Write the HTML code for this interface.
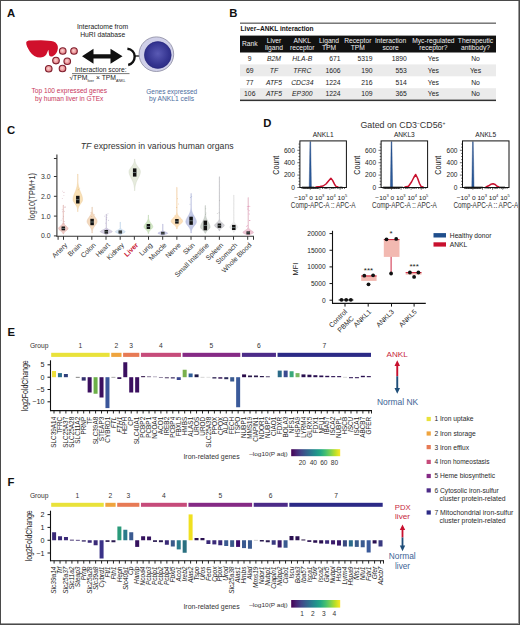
<!DOCTYPE html><html><head><meta charset="utf-8"><title>figure</title><style>html,body{margin:0;padding:0;background:#fff;}body{width:520px;height:625px;overflow:hidden;}svg{display:block;font-family:"Liberation Sans",sans-serif;}text{paint-order:stroke;}</style></head><body>
<svg width="520" height="625" viewBox="0 0 520 625">
<defs><radialGradient id="gpink" cx="0.45" cy="0.45" r="0.6"><stop offset="0" stop-color="#fbd6d4"/><stop offset="0.55" stop-color="#ec9a9c"/><stop offset="1" stop-color="#d86872"/></radialGradient><radialGradient id="gblue" cx="0.5" cy="0.45" r="0.6"><stop offset="0" stop-color="#5a5ab4"/><stop offset="0.7" stop-color="#33338f"/><stop offset="1" stop-color="#2a2a80"/></radialGradient><linearGradient id="viridis" x1="0" x2="1" y1="0" y2="0"><stop offset="0.0" stop-color="#440154"/><stop offset="0.1" stop-color="#482475"/><stop offset="0.2" stop-color="#414487"/><stop offset="0.3" stop-color="#355f8d"/><stop offset="0.4" stop-color="#2a788e"/><stop offset="0.5" stop-color="#21918c"/><stop offset="0.6" stop-color="#22a884"/><stop offset="0.7" stop-color="#44bf70"/><stop offset="0.8" stop-color="#7ad151"/><stop offset="0.9" stop-color="#bddf26"/><stop offset="1.0" stop-color="#fde725"/></linearGradient></defs>
<rect x="0" y="0" width="520" height="625" fill="#fff"/>
<text x="7.00" y="16.90" font-size="11.3" fill="#111" font-weight="bold">A</text>
<path d="M26.2,42.6 C26.5,40.8 28.5,40.4 30,40.4 L41,40.3 C46,40.4 51,40.8 53.5,41.6 C56.5,42.8 58.2,45.2 57.9,48.2 C57.6,51.6 55.8,54.6 53.2,55.9 C51.6,56.7 50,56.6 49.3,55.4 C48.8,54.2 48.7,51.5 48.4,49.8 C47.7,51 47.2,53 46.3,54.6 C45,56.6 42.6,57.6 40.2,57.6 C36.2,57.4 32.2,55 29.8,51.4 C27.8,48.4 26,45.2 26.2,42.6 Z" fill="#d0102c"/>
<circle cx="62.75" cy="51" r="3.3" fill="url(#gpink)" stroke="#7e1f2e" stroke-width="1.1"/>
<circle cx="74" cy="51" r="3.3" fill="url(#gpink)" stroke="#7e1f2e" stroke-width="1.1"/>
<circle cx="56" cy="60.6" r="3.3" fill="url(#gpink)" stroke="#7e1f2e" stroke-width="1.1"/>
<circle cx="67.25" cy="61.25" r="3.3" fill="url(#gpink)" stroke="#7e1f2e" stroke-width="1.1"/>
<circle cx="48.75" cy="68.75" r="3.3" fill="url(#gpink)" stroke="#7e1f2e" stroke-width="1.1"/>
<circle cx="62.5" cy="68.5" r="3.3" fill="url(#gpink)" stroke="#7e1f2e" stroke-width="1.1"/>
<text x="102.50" y="28.75" font-size="6.8" fill="#222" text-anchor="middle" textLength="51.20" lengthAdjust="spacingAndGlyphs">Interactome from</text>
<text x="102.75" y="37.30" font-size="6.8" fill="#222" text-anchor="middle" textLength="45.00" lengthAdjust="spacingAndGlyphs">HuRI database</text>
<path d="M82,56.3 L93.5,48.8 L93.5,54.2 L110.5,54.2 L110.5,48.8 L122.5,56.3 L110.5,63.8 L110.5,58.4 L93.5,58.4 L93.5,63.8 Z" fill="#111"/>
<text x="100.80" y="71.50" font-size="6.8" fill="#222" text-anchor="middle" textLength="51.60" lengthAdjust="spacingAndGlyphs">Interaction score:</text>
<line x1="72.00" y1="73.60" x2="129.50" y2="73.60" stroke="#555" stroke-width="0.8" />
<text x="69.4" y="80.2" font-size="6.8" fill="#222">√TPM<tspan font-size="3.6" dy="1.6">liver</tspan><tspan dy="-1.6"> × TPM</tspan><tspan font-size="3.6" dy="1.6">ANKL</tspan></text>
<text x="69.30" y="93.40" font-size="6.7" fill="#c8375c" text-anchor="middle" textLength="75.60" lengthAdjust="spacingAndGlyphs">Top 100 expressed genes</text>
<text x="69.20" y="101.00" font-size="6.7" fill="#c8375c" text-anchor="middle" textLength="68.40" lengthAdjust="spacingAndGlyphs">by human liver in GTEx</text>
<path d="M127.4,48.8 C131.8,49.2 134.6,52.4 134.7,56.4 C134.6,60.6 132,64.2 128.2,65.0" fill="none" stroke="#111" stroke-width="2.4"/>
<line x1="134.60" y1="56.00" x2="139.50" y2="56.00" stroke="#111" stroke-width="1.3" />
<circle cx="156.4" cy="54.2" r="17.3" fill="#cfcfe8" stroke="#8a8aa0" stroke-width="0.8"/>
<circle cx="157.8" cy="55" r="13.4" fill="url(#gblue)" stroke="#23237a" stroke-width="0.6"/>
<text x="171.70" y="93.50" font-size="6.7" fill="#4d6d9e" text-anchor="middle" textLength="50.80" lengthAdjust="spacingAndGlyphs">Genes expressed</text>
<text x="171.50" y="100.80" font-size="6.7" fill="#4d6d9e" text-anchor="middle" textLength="45.00" lengthAdjust="spacingAndGlyphs">by ANKL1 cells</text>
<text x="229.20" y="17.00" font-size="11.3" fill="#111" font-weight="bold">B</text>
<rect x="240.00" y="22.60" width="256.00" height="1.10" fill="#444" />
<text x="240.60" y="30.70" font-size="6.8" fill="#111" font-weight="bold" textLength="73.00" lengthAdjust="spacingAndGlyphs">Liver–ANKL interaction</text>
<rect x="240.00" y="35.60" width="256.00" height="16.90" fill="#111" />
<rect x="240.00" y="64.40" width="256.00" height="11.90" fill="#ebebeb" />
<rect x="240.00" y="88.20" width="256.00" height="11.90" fill="#ebebeb" />
<rect x="240.00" y="99.60" width="256.00" height="1.50" fill="#333" />
<text x="249.75" y="46.30" font-size="6.7" fill="#f2f2f2" text-anchor="middle">Rank</text>
<text x="274.00" y="42.60" font-size="6.7" fill="#f2f2f2" text-anchor="middle">Liver</text>
<text x="274.00" y="50.00" font-size="6.7" fill="#f2f2f2" text-anchor="middle">ligand</text>
<text x="302.30" y="42.60" font-size="6.7" fill="#f2f2f2" text-anchor="middle">ANKL</text>
<text x="302.30" y="50.00" font-size="6.7" fill="#f2f2f2" text-anchor="middle">receptor</text>
<text x="329.00" y="42.60" font-size="6.7" fill="#f2f2f2" text-anchor="middle">Ligand</text>
<text x="329.00" y="50.00" font-size="6.7" fill="#f2f2f2" text-anchor="middle">TPM</text>
<text x="357.80" y="42.60" font-size="6.7" fill="#f2f2f2" text-anchor="middle">Receptor</text>
<text x="357.80" y="50.00" font-size="6.7" fill="#f2f2f2" text-anchor="middle">TPM</text>
<text x="390.60" y="42.60" font-size="6.7" fill="#f2f2f2" text-anchor="middle">Interaction</text>
<text x="390.60" y="50.00" font-size="6.7" fill="#f2f2f2" text-anchor="middle">score</text>
<text x="433.40" y="42.60" font-size="6.7" fill="#f2f2f2" text-anchor="middle">Myc-regulated</text>
<text x="433.40" y="50.00" font-size="6.7" fill="#f2f2f2" text-anchor="middle">receptor?</text>
<text x="475.50" y="42.60" font-size="6.7" fill="#f2f2f2" text-anchor="middle">Therapeutic</text>
<text x="475.50" y="50.00" font-size="6.7" fill="#f2f2f2" text-anchor="middle">antibody?</text>
<text x="249.75" y="60.70" font-size="6.8" fill="#222" text-anchor="middle">9</text>
<text x="274.00" y="60.70" font-size="6.8" fill="#222" text-anchor="middle" font-style="italic">B2M</text>
<text x="302.30" y="60.70" font-size="6.8" fill="#222" text-anchor="middle" font-style="italic">HLA-B</text>
<text x="340.60" y="60.70" font-size="6.8" fill="#222" text-anchor="end">671</text>
<text x="372.50" y="60.70" font-size="6.8" fill="#222" text-anchor="end">5319</text>
<text x="406.90" y="60.70" font-size="6.8" fill="#222" text-anchor="end">1890</text>
<text x="433.40" y="60.70" font-size="6.8" fill="#222" text-anchor="middle">Yes</text>
<text x="475.50" y="60.70" font-size="6.8" fill="#222" text-anchor="middle">No</text>
<text x="249.75" y="72.60" font-size="6.8" fill="#222" text-anchor="middle">69</text>
<text x="274.00" y="72.60" font-size="6.8" fill="#222" text-anchor="middle" font-style="italic">TF</text>
<text x="302.30" y="72.60" font-size="6.8" fill="#222" text-anchor="middle" font-style="italic">TFRC</text>
<text x="340.60" y="72.60" font-size="6.8" fill="#222" text-anchor="end">1606</text>
<text x="372.50" y="72.60" font-size="6.8" fill="#222" text-anchor="end">190</text>
<text x="406.90" y="72.60" font-size="6.8" fill="#222" text-anchor="end">553</text>
<text x="433.40" y="72.60" font-size="6.8" fill="#222" text-anchor="middle">Yes</text>
<text x="475.50" y="72.60" font-size="6.8" fill="#222" text-anchor="middle">Yes</text>
<text x="249.75" y="84.50" font-size="6.8" fill="#222" text-anchor="middle">77</text>
<text x="274.00" y="84.50" font-size="6.8" fill="#222" text-anchor="middle" font-style="italic">ATF5</text>
<text x="302.30" y="84.50" font-size="6.8" fill="#222" text-anchor="middle" font-style="italic">CDC34</text>
<text x="340.60" y="84.50" font-size="6.8" fill="#222" text-anchor="end">1224</text>
<text x="372.50" y="84.50" font-size="6.8" fill="#222" text-anchor="end">216</text>
<text x="406.90" y="84.50" font-size="6.8" fill="#222" text-anchor="end">514</text>
<text x="433.40" y="84.50" font-size="6.8" fill="#222" text-anchor="middle">Yes</text>
<text x="475.50" y="84.50" font-size="6.8" fill="#222" text-anchor="middle">No</text>
<text x="249.75" y="96.40" font-size="6.8" fill="#222" text-anchor="middle">106</text>
<text x="274.00" y="96.40" font-size="6.8" fill="#222" text-anchor="middle" font-style="italic">ATF5</text>
<text x="302.30" y="96.40" font-size="6.8" fill="#222" text-anchor="middle" font-style="italic">EP300</text>
<text x="340.60" y="96.40" font-size="6.8" fill="#222" text-anchor="end">1224</text>
<text x="372.50" y="96.40" font-size="6.8" fill="#222" text-anchor="end">109</text>
<text x="406.90" y="96.40" font-size="6.8" fill="#222" text-anchor="end">365</text>
<text x="433.40" y="96.40" font-size="6.8" fill="#222" text-anchor="middle">Yes</text>
<text x="475.50" y="96.40" font-size="6.8" fill="#222" text-anchor="middle">No</text>
<text x="7.00" y="134.40" font-size="11.3" fill="#111" font-weight="bold">C</text>
<text x="80.8" y="148.5" font-size="8.7" fill="#333" textLength="152.8" lengthAdjust="spacingAndGlyphs"><tspan font-style="italic">TF</tspan> expression in various human organs</text>
<line x1="56.90" y1="154.40" x2="56.90" y2="236.60" stroke="#333" stroke-width="1.1" />
<line x1="56.40" y1="236.25" x2="253.90" y2="236.25" stroke="#333" stroke-width="1.1" />
<line x1="53.90" y1="176.50" x2="56.90" y2="176.50" stroke="#333" stroke-width="1" />
<text x="50.60" y="178.90" font-size="6.9" fill="#333" text-anchor="end">3.0</text>
<line x1="53.90" y1="196.30" x2="56.90" y2="196.30" stroke="#333" stroke-width="1" />
<text x="50.60" y="198.70" font-size="6.9" fill="#333" text-anchor="end">2.0</text>
<line x1="53.90" y1="216.10" x2="56.90" y2="216.10" stroke="#333" stroke-width="1" />
<text x="50.60" y="218.50" font-size="6.9" fill="#333" text-anchor="end">1.0</text>
<line x1="53.90" y1="235.90" x2="56.90" y2="235.90" stroke="#333" stroke-width="1" />
<text x="50.60" y="238.30" font-size="6.9" fill="#333" text-anchor="end">0.0</text>
<line x1="53.90" y1="158.50" x2="56.90" y2="158.50" stroke="#333" stroke-width="1" />
<text transform="translate(35.0,196.5) rotate(-90)" font-size="8.2" fill="#333" text-anchor="middle" textLength="47" lengthAdjust="spacingAndGlyphs">log10(TPM+1)</text>
<line x1="63.50" y1="236.25" x2="63.50" y2="239.80" stroke="#333" stroke-width="1" />
<line x1="77.67" y1="236.25" x2="77.67" y2="239.80" stroke="#333" stroke-width="1" />
<line x1="91.84" y1="236.25" x2="91.84" y2="239.80" stroke="#333" stroke-width="1" />
<line x1="106.01" y1="236.25" x2="106.01" y2="239.80" stroke="#333" stroke-width="1" />
<line x1="120.18" y1="236.25" x2="120.18" y2="239.80" stroke="#333" stroke-width="1" />
<line x1="134.35" y1="236.25" x2="134.35" y2="239.80" stroke="#333" stroke-width="1" />
<line x1="148.52" y1="236.25" x2="148.52" y2="239.80" stroke="#333" stroke-width="1" />
<line x1="162.69" y1="236.25" x2="162.69" y2="239.80" stroke="#333" stroke-width="1" />
<line x1="176.86" y1="236.25" x2="176.86" y2="239.80" stroke="#333" stroke-width="1" />
<line x1="191.03" y1="236.25" x2="191.03" y2="239.80" stroke="#333" stroke-width="1" />
<line x1="205.20" y1="236.25" x2="205.20" y2="239.80" stroke="#333" stroke-width="1" />
<line x1="219.37" y1="236.25" x2="219.37" y2="239.80" stroke="#333" stroke-width="1" />
<line x1="233.54" y1="236.25" x2="233.54" y2="239.80" stroke="#333" stroke-width="1" />
<line x1="247.71" y1="236.25" x2="247.71" y2="239.80" stroke="#333" stroke-width="1" />
<line x1="58.10" y1="236.25" x2="58.10" y2="239.80" stroke="#333" stroke-width="1" />
<line x1="253.50" y1="236.25" x2="253.50" y2="239.80" stroke="#333" stroke-width="1" />
<text transform="translate(67.80,245.5) rotate(-45)" font-size="6.9" fill="#333" text-anchor="end">Artery</text>
<text transform="translate(81.97,245.5) rotate(-45)" font-size="6.9" fill="#333" text-anchor="end">Brain</text>
<text transform="translate(96.14,245.5) rotate(-45)" font-size="6.9" fill="#333" text-anchor="end">Colon</text>
<text transform="translate(110.31,245.5) rotate(-45)" font-size="6.9" fill="#333" text-anchor="end">Heart</text>
<text transform="translate(124.48,245.5) rotate(-45)" font-size="6.9" fill="#333" text-anchor="end">Kidney</text>
<text transform="translate(138.65,245.5) rotate(-45)" font-size="6.9" fill="#c8102e" text-anchor="end" font-weight="bold">Liver</text>
<text transform="translate(152.82,245.5) rotate(-45)" font-size="6.9" fill="#333" text-anchor="end">Lung</text>
<text transform="translate(166.99,245.5) rotate(-45)" font-size="6.9" fill="#333" text-anchor="end">Muscle</text>
<text transform="translate(181.16,245.5) rotate(-45)" font-size="6.9" fill="#333" text-anchor="end">Nerve</text>
<text transform="translate(195.33,245.5) rotate(-45)" font-size="6.9" fill="#333" text-anchor="end">Skin</text>
<text transform="translate(209.50,245.5) rotate(-45)" font-size="6.9" fill="#333" text-anchor="end">Small Intestine</text>
<text transform="translate(223.67,245.5) rotate(-45)" font-size="6.9" fill="#333" text-anchor="end">Spleen</text>
<text transform="translate(237.84,245.5) rotate(-45)" font-size="6.9" fill="#333" text-anchor="end">Stomach</text>
<text transform="translate(252.01,245.5) rotate(-45)" font-size="6.9" fill="#333" text-anchor="end">Whole Blood</text>
<path d="M63.42,205.00 L63.42,205.72 L63.42,206.45 L63.42,207.18 L63.42,207.90 L63.42,208.62 L63.42,209.35 L63.42,210.07 L63.42,210.80 L63.42,211.53 L63.42,212.25 L63.42,212.97 L63.42,213.70 L63.42,214.43 L63.42,215.15 L63.42,215.88 L63.42,216.60 L63.42,217.32 L63.42,218.05 L63.42,218.78 L63.42,219.50 L63.42,220.22 L63.42,220.95 L63.42,221.68 L63.49,222.40 L63.69,223.12 L64.03,223.85 L64.56,224.57 L65.27,225.30 L66.12,226.03 L66.98,226.75 L67.68,227.47 L68.06,228.20 L68.01,228.93 L67.49,229.65 L66.64,230.38 L65.69,231.10 L64.83,231.82 L64.18,232.55 L63.76,233.28 L63.60,234.00 L63.00,234.00 L62.84,233.28 L62.42,232.55 L61.77,231.82 L60.91,231.10 L59.96,230.38 L59.11,229.65 L58.59,228.93 L58.54,228.20 L58.92,227.47 L59.62,226.75 L60.48,226.03 L61.33,225.30 L62.04,224.57 L62.57,223.85 L62.91,223.12 L63.11,222.40 L63.18,221.68 L63.18,220.95 L63.18,220.22 L63.18,219.50 L63.18,218.78 L63.18,218.05 L63.18,217.32 L63.18,216.60 L63.18,215.88 L63.18,215.15 L63.18,214.43 L63.18,213.70 L63.18,212.97 L63.18,212.25 L63.18,211.53 L63.18,210.80 L63.18,210.07 L63.18,209.35 L63.18,208.62 L63.18,207.90 L63.18,207.18 L63.18,206.45 L63.18,205.72 L63.18,205.00 Z" fill="#efc8c2" stroke="#dba8a2" stroke-width="0.4" stroke-linejoin="round"/>
<path d="M77.92,174.00 L77.92,174.94 L77.92,175.88 L77.92,176.81 L77.92,177.75 L77.92,178.69 L77.92,179.62 L77.92,180.56 L77.97,181.50 L78.04,182.44 L78.13,183.38 L78.24,184.31 L78.39,185.25 L78.57,186.19 L78.78,187.12 L79.03,188.06 L79.33,189.00 L79.65,189.94 L80.01,190.88 L80.39,191.81 L80.77,192.75 L81.16,193.69 L81.53,194.62 L81.86,195.56 L82.15,196.50 L82.38,197.44 L82.53,198.38 L82.60,199.31 L82.54,200.25 L82.24,201.19 L81.73,202.12 L81.10,203.06 L80.42,204.00 L79.77,204.94 L79.20,205.88 L78.74,206.81 L78.40,207.75 L78.16,208.69 L78.01,209.62 L77.92,210.56 L78.10,211.50 L77.50,211.50 L77.68,210.56 L77.59,209.62 L77.44,208.69 L77.20,207.75 L76.86,206.81 L76.40,205.88 L75.83,204.94 L75.18,204.00 L74.50,203.06 L73.87,202.12 L73.36,201.19 L73.06,200.25 L73.00,199.31 L73.07,198.38 L73.22,197.44 L73.45,196.50 L73.74,195.56 L74.07,194.62 L74.44,193.69 L74.83,192.75 L75.21,191.81 L75.59,190.88 L75.95,189.94 L76.27,189.00 L76.57,188.06 L76.82,187.12 L77.03,186.19 L77.21,185.25 L77.36,184.31 L77.47,183.38 L77.56,182.44 L77.63,181.50 L77.68,180.56 L77.68,179.62 L77.68,178.69 L77.68,177.75 L77.68,176.81 L77.68,175.88 L77.68,174.94 L77.68,174.00 Z" fill="#f8e0b6" stroke="#ecc898" stroke-width="0.4" stroke-linejoin="round"/>
<path d="M92.22,207.00 L92.22,207.65 L92.22,208.30 L92.22,208.95 L92.22,209.60 L92.25,210.25 L92.32,210.90 L92.42,211.55 L92.55,212.20 L92.73,212.85 L92.95,213.50 L93.23,214.15 L93.55,214.80 L93.93,215.45 L94.36,216.10 L94.81,216.75 L95.28,217.40 L95.74,218.05 L96.17,218.70 L96.54,219.35 L96.83,220.00 L97.02,220.65 L97.10,221.30 L97.05,221.95 L96.88,222.60 L96.59,223.25 L96.21,223.90 L95.77,224.55 L95.28,225.20 L94.79,225.85 L94.32,226.50 L93.88,227.15 L93.49,227.80 L93.16,228.45 L92.88,229.10 L92.67,229.75 L92.50,230.40 L92.37,231.05 L92.28,231.70 L92.22,232.35 L92.40,233.00 L91.80,233.00 L91.98,232.35 L91.92,231.70 L91.83,231.05 L91.70,230.40 L91.53,229.75 L91.32,229.10 L91.04,228.45 L90.71,227.80 L90.32,227.15 L89.88,226.50 L89.41,225.85 L88.92,225.20 L88.43,224.55 L87.99,223.90 L87.61,223.25 L87.32,222.60 L87.15,221.95 L87.10,221.30 L87.18,220.65 L87.37,220.00 L87.66,219.35 L88.03,218.70 L88.46,218.05 L88.92,217.40 L89.39,216.75 L89.84,216.10 L90.27,215.45 L90.65,214.80 L90.97,214.15 L91.25,213.50 L91.47,212.85 L91.65,212.20 L91.78,211.55 L91.88,210.90 L91.95,210.25 L91.98,209.60 L91.98,208.95 L91.98,208.30 L91.98,207.65 L91.98,207.00 Z" fill="#f3d9be" stroke="#dfbc9c" stroke-width="0.4" stroke-linejoin="round"/>
<path d="M106.42,214.00 L106.42,214.53 L106.42,215.06 L106.42,215.59 L106.42,216.12 L106.42,216.65 L106.42,217.18 L106.42,217.71 L106.42,218.24 L106.42,218.77 L106.42,219.30 L106.42,219.83 L106.42,220.36 L106.42,220.89 L106.42,221.42 L106.42,221.95 L106.42,222.48 L106.42,223.01 L106.42,223.54 L106.42,224.07 L106.42,224.60 L106.42,225.13 L106.42,225.66 L106.42,226.19 L106.42,226.72 L106.45,227.25 L106.65,227.78 L107.02,228.31 L107.66,228.84 L108.57,229.37 L109.71,229.90 L110.89,230.43 L111.84,230.96 L112.29,231.49 L112.04,232.02 L111.07,232.55 L109.73,233.08 L108.44,233.61 L107.46,234.14 L106.84,234.67 L106.60,235.20 L106.00,235.20 L105.76,234.67 L105.14,234.14 L104.16,233.61 L102.87,233.08 L101.53,232.55 L100.56,232.02 L100.31,231.49 L100.76,230.96 L101.71,230.43 L102.89,229.90 L104.03,229.37 L104.94,228.84 L105.58,228.31 L105.95,227.78 L106.15,227.25 L106.18,226.72 L106.18,226.19 L106.18,225.66 L106.18,225.13 L106.18,224.60 L106.18,224.07 L106.18,223.54 L106.18,223.01 L106.18,222.48 L106.18,221.95 L106.18,221.42 L106.18,220.89 L106.18,220.36 L106.18,219.83 L106.18,219.30 L106.18,218.77 L106.18,218.24 L106.18,217.71 L106.18,217.18 L106.18,216.65 L106.18,216.12 L106.18,215.59 L106.18,215.06 L106.18,214.53 L106.18,214.00 Z" fill="#d6d0e2" stroke="#b4acc8" stroke-width="0.4" stroke-linejoin="round"/>
<path d="M120.42,222.00 L120.42,222.33 L120.42,222.66 L120.42,222.99 L120.42,223.32 L120.42,223.65 L120.42,223.98 L120.42,224.31 L120.42,224.64 L120.42,224.97 L120.42,225.30 L120.42,225.63 L120.42,225.96 L120.42,226.29 L120.42,226.62 L120.42,226.95 L120.42,227.28 L120.42,227.61 L120.48,227.94 L120.61,228.27 L120.81,228.60 L121.10,228.93 L121.49,229.26 L121.99,229.59 L122.58,229.92 L123.23,230.25 L123.89,230.58 L124.49,230.91 L124.96,231.24 L125.24,231.57 L125.29,231.90 L125.03,232.23 L124.51,232.56 L123.82,232.89 L123.05,233.22 L122.32,233.55 L121.69,233.88 L121.20,234.21 L120.84,234.54 L120.61,234.87 L120.60,235.20 L120.00,235.20 L119.99,234.87 L119.76,234.54 L119.40,234.21 L118.91,233.88 L118.28,233.55 L117.55,233.22 L116.78,232.89 L116.09,232.56 L115.57,232.23 L115.31,231.90 L115.36,231.57 L115.64,231.24 L116.11,230.91 L116.71,230.58 L117.37,230.25 L118.02,229.92 L118.61,229.59 L119.11,229.26 L119.50,228.93 L119.79,228.60 L119.99,228.27 L120.12,227.94 L120.18,227.61 L120.18,227.28 L120.18,226.95 L120.18,226.62 L120.18,226.29 L120.18,225.96 L120.18,225.63 L120.18,225.30 L120.18,224.97 L120.18,224.64 L120.18,224.31 L120.18,223.98 L120.18,223.65 L120.18,223.32 L120.18,222.99 L120.18,222.66 L120.18,222.33 L120.18,222.00 Z" fill="#d8e6f4" stroke="#b4cce2" stroke-width="0.4" stroke-linejoin="round"/>
<path d="M134.82,159.00 L134.86,159.79 L134.95,160.57 L135.08,161.36 L135.27,162.15 L135.52,162.94 L135.85,163.72 L136.26,164.51 L136.75,165.30 L137.30,166.09 L137.90,166.88 L138.52,167.66 L139.11,168.45 L139.63,169.24 L140.05,170.03 L140.31,170.81 L140.40,171.60 L140.36,172.39 L140.24,173.18 L140.05,173.96 L139.79,174.75 L139.47,175.54 L139.11,176.32 L138.72,177.11 L138.31,177.90 L137.90,178.69 L137.50,179.47 L137.11,180.26 L136.75,181.05 L136.41,181.84 L136.11,182.62 L135.85,183.41 L135.62,184.20 L135.43,184.99 L135.27,185.78 L135.14,186.56 L135.03,187.35 L134.95,188.14 L134.88,188.93 L134.83,189.71 L135.00,190.50 L134.40,190.50 L134.57,189.71 L134.52,188.93 L134.45,188.14 L134.37,187.35 L134.26,186.56 L134.13,185.78 L133.97,184.99 L133.78,184.20 L133.55,183.41 L133.29,182.62 L132.99,181.84 L132.65,181.05 L132.29,180.26 L131.90,179.47 L131.50,178.69 L131.09,177.90 L130.68,177.11 L130.29,176.32 L129.93,175.54 L129.61,174.75 L129.35,173.96 L129.16,173.18 L129.04,172.39 L129.00,171.60 L129.09,170.81 L129.35,170.03 L129.77,169.24 L130.29,168.45 L130.88,167.66 L131.50,166.88 L132.10,166.09 L132.65,165.30 L133.14,164.51 L133.55,163.72 L133.88,162.94 L134.13,162.15 L134.32,161.36 L134.45,160.57 L134.54,159.79 L134.58,159.00 Z" fill="#e6ebdd" stroke="#ccd3c0" stroke-width="0.4" stroke-linejoin="round"/>
<path d="M148.52,215.00 L148.52,215.46 L148.52,215.93 L148.52,216.39 L148.52,216.85 L148.52,217.31 L148.53,217.78 L148.58,218.24 L148.66,218.70 L148.75,219.16 L148.87,219.62 L149.03,220.09 L149.21,220.55 L149.43,221.01 L149.69,221.47 L149.98,221.94 L150.30,222.40 L150.65,222.86 L151.01,223.32 L151.37,223.79 L151.72,224.25 L152.04,224.71 L152.33,225.18 L152.55,225.64 L152.71,226.10 L152.79,226.56 L152.78,227.03 L152.64,227.49 L152.36,227.95 L151.97,228.41 L151.52,228.88 L151.03,229.34 L150.54,229.80 L150.09,230.26 L149.68,230.72 L149.34,231.19 L149.07,231.65 L148.86,232.11 L148.71,232.57 L148.60,233.04 L148.70,233.50 L148.10,233.50 L148.20,233.04 L148.09,232.57 L147.94,232.11 L147.73,231.65 L147.46,231.19 L147.12,230.72 L146.71,230.26 L146.26,229.80 L145.77,229.34 L145.28,228.88 L144.83,228.41 L144.44,227.95 L144.16,227.49 L144.02,227.03 L144.01,226.56 L144.09,226.10 L144.25,225.64 L144.47,225.18 L144.76,224.71 L145.08,224.25 L145.43,223.79 L145.79,223.32 L146.15,222.86 L146.50,222.40 L146.82,221.94 L147.11,221.47 L147.37,221.01 L147.59,220.55 L147.77,220.09 L147.93,219.62 L148.05,219.16 L148.14,218.70 L148.22,218.24 L148.27,217.78 L148.28,217.31 L148.28,216.85 L148.28,216.39 L148.28,215.93 L148.28,215.46 L148.28,215.00 Z" fill="#d3e8c6" stroke="#b2d0a2" stroke-width="0.4" stroke-linejoin="round"/>
<path d="M162.92,224.00 L162.92,224.29 L162.92,224.57 L162.92,224.86 L162.92,225.15 L162.92,225.44 L162.92,225.72 L162.92,226.01 L162.92,226.30 L162.92,226.59 L162.92,226.88 L162.92,227.16 L162.92,227.45 L162.92,227.74 L162.92,228.03 L162.92,228.31 L162.92,228.60 L162.92,228.89 L162.92,229.18 L162.92,229.46 L162.92,229.75 L162.92,230.04 L162.96,230.32 L163.11,230.61 L163.35,230.90 L163.72,231.19 L164.23,231.47 L164.89,231.76 L165.64,232.05 L166.40,232.34 L167.07,232.62 L167.54,232.91 L167.70,233.20 L167.50,233.49 L166.95,233.78 L166.18,234.06 L165.33,234.35 L164.54,234.64 L163.91,234.93 L163.45,235.21 L163.10,235.50 L162.50,235.50 L162.15,235.21 L161.69,234.93 L161.06,234.64 L160.27,234.35 L159.42,234.06 L158.65,233.78 L158.10,233.49 L157.90,233.20 L158.06,232.91 L158.53,232.62 L159.20,232.34 L159.96,232.05 L160.71,231.76 L161.37,231.47 L161.88,231.19 L162.25,230.90 L162.49,230.61 L162.64,230.32 L162.68,230.04 L162.68,229.75 L162.68,229.46 L162.68,229.18 L162.68,228.89 L162.68,228.60 L162.68,228.31 L162.68,228.03 L162.68,227.74 L162.68,227.45 L162.68,227.16 L162.68,226.88 L162.68,226.59 L162.68,226.30 L162.68,226.01 L162.68,225.72 L162.68,225.44 L162.68,225.15 L162.68,224.86 L162.68,224.57 L162.68,224.29 L162.68,224.00 Z" fill="#cdcde8" stroke="#aaaad2" stroke-width="0.4" stroke-linejoin="round"/>
<path d="M177.02,187.30 L177.02,188.34 L177.02,189.39 L177.02,190.43 L177.02,191.47 L177.02,192.51 L177.02,193.56 L177.02,194.60 L177.02,195.64 L177.02,196.68 L177.02,197.73 L177.02,198.77 L177.02,199.81 L177.02,200.85 L177.02,201.90 L177.02,202.94 L177.02,203.98 L177.02,205.02 L177.02,206.06 L177.02,207.11 L177.02,208.15 L177.02,209.19 L177.02,210.24 L177.02,211.28 L177.08,212.32 L177.28,213.36 L177.64,214.41 L178.22,215.45 L179.03,216.49 L180.04,217.53 L181.11,218.57 L182.03,219.62 L182.60,220.66 L182.64,221.70 L181.98,222.75 L180.81,223.79 L179.52,224.83 L178.43,225.87 L177.68,226.91 L177.24,227.96 L177.20,229.00 L176.60,229.00 L176.56,227.96 L176.12,226.91 L175.37,225.87 L174.28,224.83 L172.99,223.79 L171.82,222.75 L171.16,221.70 L171.20,220.66 L171.77,219.62 L172.69,218.57 L173.76,217.53 L174.77,216.49 L175.58,215.45 L176.16,214.41 L176.52,213.36 L176.72,212.32 L176.78,211.28 L176.78,210.24 L176.78,209.19 L176.78,208.15 L176.78,207.11 L176.78,206.06 L176.78,205.02 L176.78,203.98 L176.78,202.94 L176.78,201.90 L176.78,200.85 L176.78,199.81 L176.78,198.77 L176.78,197.73 L176.78,196.68 L176.78,195.64 L176.78,194.60 L176.78,193.56 L176.78,192.51 L176.78,191.47 L176.78,190.43 L176.78,189.39 L176.78,188.34 L176.78,187.30 Z" fill="#fbdfb9" stroke="#efc898" stroke-width="0.4" stroke-linejoin="round"/>
<path d="M191.22,193.40 L191.22,194.39 L191.22,195.38 L191.22,196.37 L191.22,197.36 L191.22,198.35 L191.22,199.34 L191.22,200.33 L191.22,201.32 L191.22,202.31 L191.22,203.30 L191.22,204.29 L191.22,205.28 L191.22,206.27 L191.23,207.26 L191.32,208.25 L191.44,209.24 L191.61,210.23 L191.85,211.22 L192.16,212.21 L192.55,213.20 L193.01,214.19 L193.54,215.18 L194.12,216.17 L194.71,217.16 L195.26,218.15 L195.75,219.14 L196.12,220.13 L196.34,221.12 L196.39,222.11 L196.15,223.10 L195.63,224.09 L194.90,225.08 L194.09,226.07 L193.31,227.06 L192.63,228.05 L192.09,229.04 L191.70,230.03 L191.44,231.02 L191.28,232.01 L191.40,233.00 L190.80,233.00 L190.92,232.01 L190.76,231.02 L190.50,230.03 L190.11,229.04 L189.57,228.05 L188.89,227.06 L188.11,226.07 L187.30,225.08 L186.57,224.09 L186.05,223.10 L185.81,222.11 L185.86,221.12 L186.08,220.13 L186.45,219.14 L186.94,218.15 L187.49,217.16 L188.08,216.17 L188.66,215.18 L189.19,214.19 L189.65,213.20 L190.04,212.21 L190.35,211.22 L190.59,210.23 L190.76,209.24 L190.88,208.25 L190.97,207.26 L190.98,206.27 L190.98,205.28 L190.98,204.29 L190.98,203.30 L190.98,202.31 L190.98,201.32 L190.98,200.33 L190.98,199.34 L190.98,198.35 L190.98,197.36 L190.98,196.37 L190.98,195.38 L190.98,194.39 L190.98,193.40 Z" fill="#c3c9e5" stroke="#a6aed6" stroke-width="0.4" stroke-linejoin="round"/>
<path d="M205.42,205.50 L205.42,206.19 L205.42,206.88 L205.42,207.58 L205.42,208.27 L205.42,208.96 L205.42,209.66 L205.42,210.35 L205.42,211.04 L205.42,211.73 L205.42,212.43 L205.42,213.12 L205.47,213.81 L205.54,214.50 L205.63,215.19 L205.75,215.89 L205.90,216.58 L206.08,217.27 L206.29,217.97 L206.55,218.66 L206.84,219.35 L207.16,220.04 L207.52,220.73 L207.89,221.43 L208.28,222.12 L208.66,222.81 L209.03,223.50 L209.36,224.20 L209.65,224.89 L209.87,225.58 L210.02,226.27 L210.10,226.97 L210.03,227.66 L209.65,228.35 L209.03,229.04 L208.28,229.74 L207.52,230.43 L206.84,231.12 L206.29,231.81 L205.90,232.51 L205.60,233.20 L205.00,233.20 L204.70,232.51 L204.31,231.81 L203.76,231.12 L203.08,230.43 L202.32,229.74 L201.57,229.04 L200.95,228.35 L200.57,227.66 L200.50,226.97 L200.58,226.27 L200.73,225.58 L200.95,224.89 L201.24,224.20 L201.57,223.50 L201.94,222.81 L202.32,222.12 L202.71,221.43 L203.08,220.73 L203.44,220.04 L203.76,219.35 L204.05,218.66 L204.31,217.97 L204.52,217.27 L204.70,216.58 L204.85,215.89 L204.97,215.19 L205.06,214.50 L205.13,213.81 L205.18,213.12 L205.18,212.43 L205.18,211.73 L205.18,211.04 L205.18,210.35 L205.18,209.66 L205.18,208.96 L205.18,208.27 L205.18,207.58 L205.18,206.88 L205.18,206.19 L205.18,205.50 Z" fill="#d0d6d0" stroke="#b0b8b0" stroke-width="0.4" stroke-linejoin="round"/>
<path d="M219.52,176.70 L219.52,178.05 L219.52,179.40 L219.52,180.75 L219.52,182.10 L219.52,183.45 L219.52,184.80 L219.52,186.15 L219.52,187.50 L219.52,188.85 L219.52,190.20 L219.52,191.55 L219.52,192.90 L219.52,194.25 L219.52,195.60 L219.52,196.95 L219.52,198.30 L219.52,199.65 L219.52,201.00 L219.52,202.35 L219.52,203.70 L219.52,205.05 L219.52,206.40 L219.52,207.75 L219.52,209.10 L219.52,210.45 L219.52,211.80 L219.52,213.15 L219.52,214.50 L219.52,215.85 L219.52,217.20 L219.52,218.55 L219.73,219.90 L220.44,221.25 L221.81,222.60 L223.46,223.95 L224.38,225.30 L223.64,226.65 L221.69,228.00 L220.18,229.35 L219.70,230.70 L219.10,230.70 L218.62,229.35 L217.11,228.00 L215.16,226.65 L214.42,225.30 L215.34,223.95 L216.99,222.60 L218.36,221.25 L219.07,219.90 L219.28,218.55 L219.28,217.20 L219.28,215.85 L219.28,214.50 L219.28,213.15 L219.28,211.80 L219.28,210.45 L219.28,209.10 L219.28,207.75 L219.28,206.40 L219.28,205.05 L219.28,203.70 L219.28,202.35 L219.28,201.00 L219.28,199.65 L219.28,198.30 L219.28,196.95 L219.28,195.60 L219.28,194.25 L219.28,192.90 L219.28,191.55 L219.28,190.20 L219.28,188.85 L219.28,187.50 L219.28,186.15 L219.28,184.80 L219.28,183.45 L219.28,182.10 L219.28,180.75 L219.28,179.40 L219.28,178.05 L219.28,176.70 Z" fill="#d2d2d6" stroke="#b0b0b6" stroke-width="0.4" stroke-linejoin="round"/>
<path d="M233.92,195.00 L233.92,195.93 L233.92,196.87 L233.92,197.80 L233.92,198.73 L233.92,199.66 L233.92,200.59 L233.92,201.53 L233.92,202.46 L233.92,203.39 L233.92,204.32 L233.92,205.26 L233.92,206.19 L233.92,207.12 L233.92,208.06 L233.92,208.99 L233.92,209.92 L233.92,210.85 L233.92,211.78 L233.92,212.72 L233.92,213.65 L233.92,214.58 L233.92,215.52 L233.92,216.45 L233.92,217.38 L233.92,218.31 L233.92,219.25 L233.92,220.18 L233.96,221.11 L234.20,222.04 L234.65,222.98 L235.36,223.91 L236.27,224.84 L237.15,225.77 L237.72,226.71 L237.71,227.64 L236.96,228.57 L235.86,229.50 L234.88,230.44 L234.26,231.37 L234.10,232.30 L233.50,232.30 L233.34,231.37 L232.72,230.44 L231.74,229.50 L230.64,228.57 L229.89,227.64 L229.88,226.71 L230.45,225.77 L231.33,224.84 L232.24,223.91 L232.95,222.98 L233.40,222.04 L233.64,221.11 L233.68,220.18 L233.68,219.25 L233.68,218.31 L233.68,217.38 L233.68,216.45 L233.68,215.52 L233.68,214.58 L233.68,213.65 L233.68,212.72 L233.68,211.78 L233.68,210.85 L233.68,209.92 L233.68,208.99 L233.68,208.06 L233.68,207.12 L233.68,206.19 L233.68,205.26 L233.68,204.32 L233.68,203.39 L233.68,202.46 L233.68,201.53 L233.68,200.59 L233.68,199.66 L233.68,198.73 L233.68,197.80 L233.68,196.87 L233.68,195.93 L233.68,195.00 Z" fill="#ececec" stroke="#d6d6d6" stroke-width="0.4" stroke-linejoin="round"/>
<path d="M248.32,197.50 L248.32,198.45 L248.32,199.40 L248.32,200.34 L248.32,201.29 L248.32,202.24 L248.32,203.19 L248.32,204.13 L248.32,205.08 L248.32,206.03 L248.32,206.97 L248.32,207.92 L248.32,208.87 L248.32,209.82 L248.32,210.76 L248.32,211.71 L248.32,212.66 L248.32,213.61 L248.32,214.56 L248.32,215.50 L248.32,216.45 L248.32,217.40 L248.32,218.34 L248.32,219.29 L248.32,220.24 L248.32,221.19 L248.32,222.13 L248.32,223.08 L248.32,224.03 L248.32,224.98 L248.32,225.93 L248.32,226.87 L248.51,227.82 L249.06,228.77 L250.11,229.72 L251.58,230.66 L252.98,231.61 L253.60,232.56 L252.44,233.50 L250.16,234.45 L248.50,235.40 L247.90,235.40 L246.24,234.45 L243.96,233.50 L242.80,232.56 L243.42,231.61 L244.82,230.66 L246.29,229.72 L247.34,228.77 L247.89,227.82 L248.08,226.87 L248.08,225.93 L248.08,224.98 L248.08,224.03 L248.08,223.08 L248.08,222.13 L248.08,221.19 L248.08,220.24 L248.08,219.29 L248.08,218.34 L248.08,217.40 L248.08,216.45 L248.08,215.50 L248.08,214.56 L248.08,213.61 L248.08,212.66 L248.08,211.71 L248.08,210.76 L248.08,209.82 L248.08,208.87 L248.08,207.92 L248.08,206.97 L248.08,206.03 L248.08,205.08 L248.08,204.13 L248.08,203.19 L248.08,202.24 L248.08,201.29 L248.08,200.34 L248.08,199.40 L248.08,198.45 L248.08,197.50 Z" fill="#eec6d4" stroke="#dca4b8" stroke-width="0.4" stroke-linejoin="round"/>
<circle cx="62.15" cy="209.59" r="0.45" fill="#c890a0" opacity="0.7"/>
<circle cx="62.73" cy="211.74" r="0.45" fill="#c890a0" opacity="0.7"/>
<circle cx="63.85" cy="192.36" r="0.45" fill="#c890a0" opacity="0.7"/>
<circle cx="61.16" cy="220.15" r="0.45" fill="#c890a0" opacity="0.7"/>
<circle cx="62.24" cy="198.44" r="0.45" fill="#c890a0" opacity="0.7"/>
<circle cx="65.48" cy="206.93" r="0.45" fill="#c890a0" opacity="0.7"/>
<circle cx="64.78" cy="207.15" r="0.45" fill="#c890a0" opacity="0.7"/>
<circle cx="63.91" cy="195.42" r="0.45" fill="#c890a0" opacity="0.7"/>
<circle cx="63.89" cy="221.25" r="0.45" fill="#c890a0" opacity="0.7"/>
<circle cx="63.40" cy="216.69" r="0.45" fill="#c890a0" opacity="0.7"/>
<circle cx="64.05" cy="192.31" r="0.45" fill="#c890a0" opacity="0.7"/>
<circle cx="64.44" cy="211.28" r="0.45" fill="#c890a0" opacity="0.7"/>
<circle cx="62.43" cy="191.12" r="0.45" fill="#c890a0" opacity="0.7"/>
<circle cx="64.91" cy="207.02" r="0.45" fill="#c890a0" opacity="0.7"/>
<circle cx="64.26" cy="221.64" r="0.45" fill="#c890a0" opacity="0.7"/>
<circle cx="64.24" cy="223.16" r="0.45" fill="#c890a0" opacity="0.7"/>
<circle cx="62.84" cy="218.83" r="0.45" fill="#c890a0" opacity="0.7"/>
<circle cx="63.06" cy="223.68" r="0.45" fill="#c890a0" opacity="0.7"/>
<circle cx="107.97" cy="213.85" r="0.45" fill="#9080b0" opacity="0.7"/>
<circle cx="104.70" cy="216.12" r="0.45" fill="#9080b0" opacity="0.7"/>
<circle cx="108.35" cy="220.29" r="0.45" fill="#9080b0" opacity="0.7"/>
<circle cx="106.86" cy="217.72" r="0.45" fill="#9080b0" opacity="0.7"/>
<circle cx="106.33" cy="219.33" r="0.45" fill="#9080b0" opacity="0.7"/>
<circle cx="105.64" cy="223.12" r="0.45" fill="#9080b0" opacity="0.7"/>
<circle cx="106.67" cy="229.18" r="0.45" fill="#9080b0" opacity="0.7"/>
<circle cx="107.10" cy="229.65" r="0.45" fill="#9080b0" opacity="0.7"/>
<circle cx="107.87" cy="230.83" r="0.45" fill="#9080b0" opacity="0.7"/>
<circle cx="107.05" cy="215.10" r="0.45" fill="#9080b0" opacity="0.7"/>
<circle cx="249.79" cy="231.05" r="0.45" fill="#d04080" opacity="0.7"/>
<circle cx="249.98" cy="220.37" r="0.45" fill="#d04080" opacity="0.7"/>
<circle cx="249.14" cy="210.70" r="0.45" fill="#d04080" opacity="0.7"/>
<circle cx="249.66" cy="220.49" r="0.45" fill="#d04080" opacity="0.7"/>
<circle cx="247.25" cy="206.71" r="0.45" fill="#d04080" opacity="0.7"/>
<circle cx="249.76" cy="231.72" r="0.45" fill="#d04080" opacity="0.7"/>
<circle cx="246.39" cy="226.62" r="0.45" fill="#d04080" opacity="0.7"/>
<circle cx="247.81" cy="209.07" r="0.45" fill="#d04080" opacity="0.7"/>
<circle cx="247.29" cy="225.76" r="0.45" fill="#d04080" opacity="0.7"/>
<circle cx="249.84" cy="206.19" r="0.45" fill="#d04080" opacity="0.7"/>
<circle cx="248.70" cy="206.21" r="0.45" fill="#d04080" opacity="0.7"/>
<circle cx="249.16" cy="213.94" r="0.45" fill="#d04080" opacity="0.7"/>
<circle cx="192.98" cy="215.61" r="0.45" fill="#8090c8" opacity="0.7"/>
<circle cx="191.32" cy="215.97" r="0.45" fill="#8090c8" opacity="0.7"/>
<circle cx="190.46" cy="197.54" r="0.45" fill="#8090c8" opacity="0.7"/>
<circle cx="191.74" cy="196.63" r="0.45" fill="#8090c8" opacity="0.7"/>
<circle cx="189.97" cy="204.16" r="0.45" fill="#8090c8" opacity="0.7"/>
<circle cx="177.39" cy="198.75" r="0.45" fill="#e8a050" opacity="0.7"/>
<circle cx="174.89" cy="215.83" r="0.45" fill="#e8a050" opacity="0.7"/>
<circle cx="176.08" cy="218.01" r="0.45" fill="#e8a050" opacity="0.7"/>
<circle cx="178.65" cy="204.07" r="0.45" fill="#e8a050" opacity="0.7"/>
<circle cx="176.73" cy="207.48" r="0.45" fill="#e8a050" opacity="0.7"/>
<circle cx="78.43" cy="189.53" r="0.45" fill="#e8b060" opacity="0.7"/>
<circle cx="78.06" cy="189.92" r="0.45" fill="#e8b060" opacity="0.7"/>
<circle cx="79.74" cy="188.11" r="0.45" fill="#e8b060" opacity="0.7"/>
<circle cx="91.80" cy="216.48" r="0.45" fill="#d09060" opacity="0.7"/>
<circle cx="90.95" cy="212.71" r="0.45" fill="#d09060" opacity="0.7"/>
<circle cx="94.20" cy="214.69" r="0.45" fill="#d09060" opacity="0.7"/>
<circle cx="219.61" cy="200.25" r="0.45" fill="#a0a0a0" opacity="0.7"/>
<circle cx="219.03" cy="212.76" r="0.45" fill="#a0a0a0" opacity="0.7"/>
<circle cx="217.29" cy="213.55" r="0.45" fill="#a0a0a0" opacity="0.7"/>
<circle cx="205.78" cy="208.84" r="0.45" fill="#909890" opacity="0.7"/>
<circle cx="205.76" cy="214.53" r="0.45" fill="#909890" opacity="0.7"/>
<circle cx="205.99" cy="212.94" r="0.45" fill="#909890" opacity="0.7"/>
<rect x="61.55" y="226.50" width="3.50" height="3.80" fill="#111" />
<line x1="61.55" y1="228.40" x2="65.05" y2="228.40" stroke="#9aa" stroke-width="0.6" />
<rect x="76.05" y="195.80" width="3.50" height="7.70" fill="#111" />
<line x1="76.05" y1="199.65" x2="79.55" y2="199.65" stroke="#9aa" stroke-width="0.6" />
<rect x="90.35" y="218.80" width="3.50" height="6.40" fill="#111" />
<line x1="90.35" y1="222.00" x2="93.85" y2="222.00" stroke="#9aa" stroke-width="0.6" />
<rect x="104.55" y="230.00" width="3.50" height="3.60" fill="#111" />
<line x1="104.55" y1="231.80" x2="108.05" y2="231.80" stroke="#9aa" stroke-width="0.6" />
<rect x="118.55" y="230.50" width="3.50" height="3.00" fill="#111" />
<line x1="118.55" y1="232.00" x2="122.05" y2="232.00" stroke="#9aa" stroke-width="0.6" />
<rect x="132.95" y="168.40" width="3.50" height="8.20" fill="#111" />
<line x1="132.95" y1="172.50" x2="136.45" y2="172.50" stroke="#9aa" stroke-width="0.6" />
<rect x="146.65" y="224.00" width="3.50" height="5.00" fill="#111" />
<line x1="146.65" y1="226.50" x2="150.15" y2="226.50" stroke="#9aa" stroke-width="0.6" />
<rect x="161.05" y="231.80" width="3.50" height="2.60" fill="#111" />
<line x1="161.05" y1="233.10" x2="164.55" y2="233.10" stroke="#9aa" stroke-width="0.6" />
<rect x="175.15" y="219.00" width="3.50" height="4.60" fill="#111" />
<line x1="175.15" y1="221.30" x2="178.65" y2="221.30" stroke="#9aa" stroke-width="0.6" />
<rect x="189.35" y="216.70" width="3.50" height="8.10" fill="#111" />
<line x1="189.35" y1="220.75" x2="192.85" y2="220.75" stroke="#9aa" stroke-width="0.6" />
<rect x="203.55" y="220.60" width="3.50" height="9.70" fill="#111" />
<line x1="203.55" y1="225.45" x2="207.05" y2="225.45" stroke="#9aa" stroke-width="0.6" />
<rect x="217.65" y="223.50" width="3.50" height="4.30" fill="#111" />
<line x1="217.65" y1="225.65" x2="221.15" y2="225.65" stroke="#9aa" stroke-width="0.6" />
<rect x="232.05" y="224.90" width="3.50" height="5.10" fill="#111" />
<line x1="232.05" y1="227.45" x2="235.55" y2="227.45" stroke="#9aa" stroke-width="0.6" />
<rect x="246.45" y="231.40" width="3.50" height="3.00" fill="#111" />
<line x1="246.45" y1="232.90" x2="249.95" y2="232.90" stroke="#9aa" stroke-width="0.6" />
<text x="263.30" y="127.30" font-size="11.3" fill="#111" font-weight="bold">D</text>
<text x="360.4" y="128.3" font-size="8.9" fill="#333" textLength="85" lengthAdjust="spacingAndGlyphs">Gated on CD3<tspan font-size="5" dy="-3.5">−</tspan><tspan dy="3.5">CD56</tspan><tspan font-size="5" dy="-3.5">+</tspan></text>
<text x="323.15" y="136.80" font-size="6.6" fill="#222" text-anchor="middle">ANKL1</text>
<path d="M309.20,187.5 L309.95,141.70000000000002 L310.65,141.70000000000002 L311.40,187.5 Z" fill="#2a5a9a" stroke="#1c3f78" stroke-width="0.4"/>
<path d="M316.00,187.00 L320.00,186.60 L323.00,186.00 L326.00,184.00 L328.50,181.00 L330.90,178.30 L332.60,180.40 L334.50,184.20 L336.20,186.60 L338.00,187.00" fill="none" stroke="#c8102e" stroke-width="1.5" stroke-linejoin="round" stroke-linecap="round"/>
<path d="M301.90,187.1 L314.40,187.1 M339.50,187.1 L342.40,187.1" stroke="#111" stroke-width="0.8"/>
<rect x="299.90" y="140.90" width="46.50" height="46.60" fill="none" stroke="#111" stroke-width="1"/>
<line x1="297.30" y1="187.50" x2="299.90" y2="187.50" stroke="#111" stroke-width="0.6" />
<line x1="298.50" y1="184.40" x2="299.90" y2="184.40" stroke="#111" stroke-width="0.6" />
<line x1="298.50" y1="181.30" x2="299.90" y2="181.30" stroke="#111" stroke-width="0.6" />
<line x1="298.50" y1="178.20" x2="299.90" y2="178.20" stroke="#111" stroke-width="0.6" />
<line x1="297.30" y1="175.10" x2="299.90" y2="175.10" stroke="#111" stroke-width="0.6" />
<line x1="298.50" y1="172.00" x2="299.90" y2="172.00" stroke="#111" stroke-width="0.6" />
<line x1="298.50" y1="168.90" x2="299.90" y2="168.90" stroke="#111" stroke-width="0.6" />
<line x1="298.50" y1="165.80" x2="299.90" y2="165.80" stroke="#111" stroke-width="0.6" />
<line x1="297.30" y1="162.70" x2="299.90" y2="162.70" stroke="#111" stroke-width="0.6" />
<line x1="298.50" y1="159.60" x2="299.90" y2="159.60" stroke="#111" stroke-width="0.6" />
<line x1="298.50" y1="156.50" x2="299.90" y2="156.50" stroke="#111" stroke-width="0.6" />
<line x1="298.50" y1="153.40" x2="299.90" y2="153.40" stroke="#111" stroke-width="0.6" />
<line x1="297.30" y1="150.30" x2="299.90" y2="150.30" stroke="#111" stroke-width="0.6" />
<line x1="298.50" y1="147.20" x2="299.90" y2="147.20" stroke="#111" stroke-width="0.6" />
<line x1="298.50" y1="144.10" x2="299.90" y2="144.10" stroke="#111" stroke-width="0.6" />
<text x="294.90" y="189.80" font-size="6.6" fill="#222" text-anchor="end">0</text>
<text x="294.90" y="177.40" font-size="6.6" fill="#222" text-anchor="end">200</text>
<text x="294.90" y="165.00" font-size="6.6" fill="#222" text-anchor="end">400</text>
<text x="294.90" y="152.60" font-size="6.6" fill="#222" text-anchor="end">600</text>
<line x1="301.90" y1="187.50" x2="301.90" y2="189.00" stroke="#111" stroke-width="0.6" />
<line x1="304.10" y1="187.50" x2="304.10" y2="189.00" stroke="#111" stroke-width="0.6" />
<line x1="305.90" y1="187.50" x2="305.90" y2="189.00" stroke="#111" stroke-width="0.6" />
<line x1="307.50" y1="187.50" x2="307.50" y2="189.00" stroke="#111" stroke-width="0.6" />
<line x1="308.90" y1="187.50" x2="308.90" y2="189.00" stroke="#111" stroke-width="0.6" />
<line x1="310.30" y1="187.50" x2="310.30" y2="189.70" stroke="#111" stroke-width="0.6" />
<line x1="311.70" y1="187.50" x2="311.70" y2="189.00" stroke="#111" stroke-width="0.6" />
<line x1="313.30" y1="187.50" x2="313.30" y2="189.00" stroke="#111" stroke-width="0.6" />
<line x1="315.10" y1="187.50" x2="315.10" y2="189.00" stroke="#111" stroke-width="0.6" />
<line x1="317.30" y1="187.50" x2="317.30" y2="189.00" stroke="#111" stroke-width="0.6" />
<line x1="319.90" y1="187.50" x2="319.90" y2="189.70" stroke="#111" stroke-width="0.6" />
<line x1="322.50" y1="187.50" x2="322.50" y2="189.00" stroke="#111" stroke-width="0.6" />
<line x1="324.30" y1="187.50" x2="324.30" y2="189.00" stroke="#111" stroke-width="0.6" />
<line x1="325.50" y1="187.50" x2="325.50" y2="189.00" stroke="#111" stroke-width="0.6" />
<line x1="326.50" y1="187.50" x2="326.50" y2="189.00" stroke="#111" stroke-width="0.6" />
<line x1="327.90" y1="187.50" x2="327.90" y2="189.00" stroke="#111" stroke-width="0.6" />
<line x1="329.90" y1="187.50" x2="329.90" y2="189.70" stroke="#111" stroke-width="0.6" />
<line x1="331.50" y1="187.50" x2="331.50" y2="189.00" stroke="#111" stroke-width="0.6" />
<line x1="332.70" y1="187.50" x2="332.70" y2="189.00" stroke="#111" stroke-width="0.6" />
<line x1="333.70" y1="187.50" x2="333.70" y2="189.00" stroke="#111" stroke-width="0.6" />
<line x1="335.10" y1="187.50" x2="335.10" y2="189.00" stroke="#111" stroke-width="0.6" />
<line x1="337.30" y1="187.50" x2="337.30" y2="189.00" stroke="#111" stroke-width="0.6" />
<line x1="338.90" y1="187.50" x2="338.90" y2="189.00" stroke="#111" stroke-width="0.6" />
<line x1="340.10" y1="187.50" x2="340.10" y2="189.70" stroke="#111" stroke-width="0.6" />
<line x1="341.10" y1="187.50" x2="341.10" y2="189.00" stroke="#111" stroke-width="0.6" />
<line x1="342.50" y1="187.50" x2="342.50" y2="189.00" stroke="#111" stroke-width="0.6" />
<line x1="344.50" y1="187.50" x2="344.50" y2="189.00" stroke="#111" stroke-width="0.6" />
<rect x="302.40" y="187.70" width="16.50" height="1.30" fill="#222" opacity="0.75"/>
<text transform="translate(278.70,165.2) rotate(-90)" font-size="8.2" fill="#222" text-anchor="middle" textLength="19" lengthAdjust="spacingAndGlyphs">Count</text>
<text x="320.65" y="199.5" font-size="6.2" fill="#222" text-anchor="middle" textLength="53" lengthAdjust="spacingAndGlyphs">−10<tspan font-size="3.8" dy="-2.4">3</tspan><tspan dy="2.4"> 0 10</tspan><tspan font-size="3.8" dy="-2.4">3</tspan><tspan dy="2.4"> 10</tspan><tspan font-size="3.8" dy="-2.4">4</tspan><tspan dy="2.4"> 10</tspan><tspan font-size="3.8" dy="-2.4">5</tspan></text>
<text x="290.80" y="208.40" font-size="8.5" fill="#333" textLength="64.80" lengthAdjust="spacingAndGlyphs">Comp-APC-A :: APC-A</text>
<text x="404.35" y="136.80" font-size="6.6" fill="#222" text-anchor="middle">ANKL3</text>
<path d="M390.40,187.5 L391.15,141.70000000000002 L391.85,141.70000000000002 L392.60,187.5 Z" fill="#2a5a9a" stroke="#1c3f78" stroke-width="0.4"/>
<path d="M405.00,187.00 L408.50,186.20 L411.50,182.00 L413.80,177.50 L415.70,174.50 L417.50,178.00 L419.50,183.50 L421.20,186.60 L423.00,187.00" fill="none" stroke="#c8102e" stroke-width="1.5" stroke-linejoin="round" stroke-linecap="round"/>
<path d="M383.10,187.1 L402.80,187.1 M423.90,187.1 L423.60,187.1" stroke="#111" stroke-width="0.8"/>
<rect x="381.10" y="140.90" width="46.50" height="46.60" fill="none" stroke="#111" stroke-width="1"/>
<line x1="378.50" y1="187.50" x2="381.10" y2="187.50" stroke="#111" stroke-width="0.6" />
<line x1="379.70" y1="184.40" x2="381.10" y2="184.40" stroke="#111" stroke-width="0.6" />
<line x1="379.70" y1="181.30" x2="381.10" y2="181.30" stroke="#111" stroke-width="0.6" />
<line x1="379.70" y1="178.20" x2="381.10" y2="178.20" stroke="#111" stroke-width="0.6" />
<line x1="378.50" y1="175.10" x2="381.10" y2="175.10" stroke="#111" stroke-width="0.6" />
<line x1="379.70" y1="172.00" x2="381.10" y2="172.00" stroke="#111" stroke-width="0.6" />
<line x1="379.70" y1="168.90" x2="381.10" y2="168.90" stroke="#111" stroke-width="0.6" />
<line x1="379.70" y1="165.80" x2="381.10" y2="165.80" stroke="#111" stroke-width="0.6" />
<line x1="378.50" y1="162.70" x2="381.10" y2="162.70" stroke="#111" stroke-width="0.6" />
<line x1="379.70" y1="159.60" x2="381.10" y2="159.60" stroke="#111" stroke-width="0.6" />
<line x1="379.70" y1="156.50" x2="381.10" y2="156.50" stroke="#111" stroke-width="0.6" />
<line x1="379.70" y1="153.40" x2="381.10" y2="153.40" stroke="#111" stroke-width="0.6" />
<line x1="378.50" y1="150.30" x2="381.10" y2="150.30" stroke="#111" stroke-width="0.6" />
<line x1="379.70" y1="147.20" x2="381.10" y2="147.20" stroke="#111" stroke-width="0.6" />
<line x1="379.70" y1="144.10" x2="381.10" y2="144.10" stroke="#111" stroke-width="0.6" />
<text x="376.10" y="189.80" font-size="6.6" fill="#222" text-anchor="end">0</text>
<text x="376.10" y="177.40" font-size="6.6" fill="#222" text-anchor="end">200</text>
<text x="376.10" y="165.00" font-size="6.6" fill="#222" text-anchor="end">400</text>
<text x="376.10" y="152.60" font-size="6.6" fill="#222" text-anchor="end">600</text>
<line x1="383.10" y1="187.50" x2="383.10" y2="189.00" stroke="#111" stroke-width="0.6" />
<line x1="385.30" y1="187.50" x2="385.30" y2="189.00" stroke="#111" stroke-width="0.6" />
<line x1="387.10" y1="187.50" x2="387.10" y2="189.00" stroke="#111" stroke-width="0.6" />
<line x1="388.70" y1="187.50" x2="388.70" y2="189.00" stroke="#111" stroke-width="0.6" />
<line x1="390.10" y1="187.50" x2="390.10" y2="189.00" stroke="#111" stroke-width="0.6" />
<line x1="391.50" y1="187.50" x2="391.50" y2="189.70" stroke="#111" stroke-width="0.6" />
<line x1="392.90" y1="187.50" x2="392.90" y2="189.00" stroke="#111" stroke-width="0.6" />
<line x1="394.50" y1="187.50" x2="394.50" y2="189.00" stroke="#111" stroke-width="0.6" />
<line x1="396.30" y1="187.50" x2="396.30" y2="189.00" stroke="#111" stroke-width="0.6" />
<line x1="398.50" y1="187.50" x2="398.50" y2="189.00" stroke="#111" stroke-width="0.6" />
<line x1="401.10" y1="187.50" x2="401.10" y2="189.70" stroke="#111" stroke-width="0.6" />
<line x1="403.70" y1="187.50" x2="403.70" y2="189.00" stroke="#111" stroke-width="0.6" />
<line x1="405.50" y1="187.50" x2="405.50" y2="189.00" stroke="#111" stroke-width="0.6" />
<line x1="406.70" y1="187.50" x2="406.70" y2="189.00" stroke="#111" stroke-width="0.6" />
<line x1="407.70" y1="187.50" x2="407.70" y2="189.00" stroke="#111" stroke-width="0.6" />
<line x1="409.10" y1="187.50" x2="409.10" y2="189.00" stroke="#111" stroke-width="0.6" />
<line x1="411.10" y1="187.50" x2="411.10" y2="189.70" stroke="#111" stroke-width="0.6" />
<line x1="412.70" y1="187.50" x2="412.70" y2="189.00" stroke="#111" stroke-width="0.6" />
<line x1="413.90" y1="187.50" x2="413.90" y2="189.00" stroke="#111" stroke-width="0.6" />
<line x1="414.90" y1="187.50" x2="414.90" y2="189.00" stroke="#111" stroke-width="0.6" />
<line x1="416.30" y1="187.50" x2="416.30" y2="189.00" stroke="#111" stroke-width="0.6" />
<line x1="418.50" y1="187.50" x2="418.50" y2="189.00" stroke="#111" stroke-width="0.6" />
<line x1="420.10" y1="187.50" x2="420.10" y2="189.00" stroke="#111" stroke-width="0.6" />
<line x1="421.30" y1="187.50" x2="421.30" y2="189.70" stroke="#111" stroke-width="0.6" />
<line x1="422.30" y1="187.50" x2="422.30" y2="189.00" stroke="#111" stroke-width="0.6" />
<line x1="423.70" y1="187.50" x2="423.70" y2="189.00" stroke="#111" stroke-width="0.6" />
<line x1="425.70" y1="187.50" x2="425.70" y2="189.00" stroke="#111" stroke-width="0.6" />
<rect x="383.60" y="187.70" width="16.50" height="1.30" fill="#222" opacity="0.75"/>
<text transform="translate(359.90,165.2) rotate(-90)" font-size="8.2" fill="#222" text-anchor="middle" textLength="19" lengthAdjust="spacingAndGlyphs">Count</text>
<text x="401.85" y="199.5" font-size="6.2" fill="#222" text-anchor="middle" textLength="53" lengthAdjust="spacingAndGlyphs">−10<tspan font-size="3.8" dy="-2.4">3</tspan><tspan dy="2.4"> 0 10</tspan><tspan font-size="3.8" dy="-2.4">3</tspan><tspan dy="2.4"> 10</tspan><tspan font-size="3.8" dy="-2.4">4</tspan><tspan dy="2.4"> 10</tspan><tspan font-size="3.8" dy="-2.4">5</tspan></text>
<text x="372.00" y="208.40" font-size="8.5" fill="#333" textLength="64.80" lengthAdjust="spacingAndGlyphs">Comp-APC-A :: APC-A</text>
<text x="485.75" y="136.80" font-size="6.6" fill="#222" text-anchor="middle">ANKL5</text>
<path d="M471.80,187.5 L472.55,141.70000000000002 L473.25,141.70000000000002 L474.00,187.5 Z" fill="#2a5a9a" stroke="#1c3f78" stroke-width="0.4"/>
<path d="M486.00,187.00 L488.60,185.80 L490.80,184.30 L493.10,183.70 L495.20,184.50 L497.00,186.20 L499.00,187.00" fill="none" stroke="#c8102e" stroke-width="1.5" stroke-linejoin="round" stroke-linecap="round"/>
<path d="M464.50,187.1 L482.80,187.1 M499.60,187.1 L505.00,187.1" stroke="#111" stroke-width="0.8"/>
<rect x="462.50" y="140.90" width="46.50" height="46.60" fill="none" stroke="#111" stroke-width="1"/>
<line x1="459.90" y1="187.50" x2="462.50" y2="187.50" stroke="#111" stroke-width="0.6" />
<line x1="461.10" y1="184.40" x2="462.50" y2="184.40" stroke="#111" stroke-width="0.6" />
<line x1="461.10" y1="181.30" x2="462.50" y2="181.30" stroke="#111" stroke-width="0.6" />
<line x1="461.10" y1="178.20" x2="462.50" y2="178.20" stroke="#111" stroke-width="0.6" />
<line x1="459.90" y1="175.10" x2="462.50" y2="175.10" stroke="#111" stroke-width="0.6" />
<line x1="461.10" y1="172.00" x2="462.50" y2="172.00" stroke="#111" stroke-width="0.6" />
<line x1="461.10" y1="168.90" x2="462.50" y2="168.90" stroke="#111" stroke-width="0.6" />
<line x1="461.10" y1="165.80" x2="462.50" y2="165.80" stroke="#111" stroke-width="0.6" />
<line x1="459.90" y1="162.70" x2="462.50" y2="162.70" stroke="#111" stroke-width="0.6" />
<line x1="461.10" y1="159.60" x2="462.50" y2="159.60" stroke="#111" stroke-width="0.6" />
<line x1="461.10" y1="156.50" x2="462.50" y2="156.50" stroke="#111" stroke-width="0.6" />
<line x1="461.10" y1="153.40" x2="462.50" y2="153.40" stroke="#111" stroke-width="0.6" />
<line x1="459.90" y1="150.30" x2="462.50" y2="150.30" stroke="#111" stroke-width="0.6" />
<line x1="461.10" y1="147.20" x2="462.50" y2="147.20" stroke="#111" stroke-width="0.6" />
<line x1="461.10" y1="144.10" x2="462.50" y2="144.10" stroke="#111" stroke-width="0.6" />
<text x="457.50" y="189.80" font-size="6.6" fill="#222" text-anchor="end">0</text>
<text x="457.50" y="177.40" font-size="6.6" fill="#222" text-anchor="end">200</text>
<text x="457.50" y="165.00" font-size="6.6" fill="#222" text-anchor="end">400</text>
<text x="457.50" y="152.60" font-size="6.6" fill="#222" text-anchor="end">600</text>
<line x1="464.50" y1="187.50" x2="464.50" y2="189.00" stroke="#111" stroke-width="0.6" />
<line x1="466.70" y1="187.50" x2="466.70" y2="189.00" stroke="#111" stroke-width="0.6" />
<line x1="468.50" y1="187.50" x2="468.50" y2="189.00" stroke="#111" stroke-width="0.6" />
<line x1="470.10" y1="187.50" x2="470.10" y2="189.00" stroke="#111" stroke-width="0.6" />
<line x1="471.50" y1="187.50" x2="471.50" y2="189.00" stroke="#111" stroke-width="0.6" />
<line x1="472.90" y1="187.50" x2="472.90" y2="189.70" stroke="#111" stroke-width="0.6" />
<line x1="474.30" y1="187.50" x2="474.30" y2="189.00" stroke="#111" stroke-width="0.6" />
<line x1="475.90" y1="187.50" x2="475.90" y2="189.00" stroke="#111" stroke-width="0.6" />
<line x1="477.70" y1="187.50" x2="477.70" y2="189.00" stroke="#111" stroke-width="0.6" />
<line x1="479.90" y1="187.50" x2="479.90" y2="189.00" stroke="#111" stroke-width="0.6" />
<line x1="482.50" y1="187.50" x2="482.50" y2="189.70" stroke="#111" stroke-width="0.6" />
<line x1="485.10" y1="187.50" x2="485.10" y2="189.00" stroke="#111" stroke-width="0.6" />
<line x1="486.90" y1="187.50" x2="486.90" y2="189.00" stroke="#111" stroke-width="0.6" />
<line x1="488.10" y1="187.50" x2="488.10" y2="189.00" stroke="#111" stroke-width="0.6" />
<line x1="489.10" y1="187.50" x2="489.10" y2="189.00" stroke="#111" stroke-width="0.6" />
<line x1="490.50" y1="187.50" x2="490.50" y2="189.00" stroke="#111" stroke-width="0.6" />
<line x1="492.50" y1="187.50" x2="492.50" y2="189.70" stroke="#111" stroke-width="0.6" />
<line x1="494.10" y1="187.50" x2="494.10" y2="189.00" stroke="#111" stroke-width="0.6" />
<line x1="495.30" y1="187.50" x2="495.30" y2="189.00" stroke="#111" stroke-width="0.6" />
<line x1="496.30" y1="187.50" x2="496.30" y2="189.00" stroke="#111" stroke-width="0.6" />
<line x1="497.70" y1="187.50" x2="497.70" y2="189.00" stroke="#111" stroke-width="0.6" />
<line x1="499.90" y1="187.50" x2="499.90" y2="189.00" stroke="#111" stroke-width="0.6" />
<line x1="501.50" y1="187.50" x2="501.50" y2="189.00" stroke="#111" stroke-width="0.6" />
<line x1="502.70" y1="187.50" x2="502.70" y2="189.70" stroke="#111" stroke-width="0.6" />
<line x1="503.70" y1="187.50" x2="503.70" y2="189.00" stroke="#111" stroke-width="0.6" />
<line x1="505.10" y1="187.50" x2="505.10" y2="189.00" stroke="#111" stroke-width="0.6" />
<line x1="507.10" y1="187.50" x2="507.10" y2="189.00" stroke="#111" stroke-width="0.6" />
<rect x="465.00" y="187.70" width="16.50" height="1.30" fill="#222" opacity="0.75"/>
<text transform="translate(441.30,165.2) rotate(-90)" font-size="8.2" fill="#222" text-anchor="middle" textLength="19" lengthAdjust="spacingAndGlyphs">Count</text>
<text x="483.25" y="199.5" font-size="6.2" fill="#222" text-anchor="middle" textLength="53" lengthAdjust="spacingAndGlyphs">−10<tspan font-size="3.8" dy="-2.4">3</tspan><tspan dy="2.4"> 0 10</tspan><tspan font-size="3.8" dy="-2.4">3</tspan><tspan dy="2.4"> 10</tspan><tspan font-size="3.8" dy="-2.4">4</tspan><tspan dy="2.4"> 10</tspan><tspan font-size="3.8" dy="-2.4">5</tspan></text>
<text x="453.40" y="208.40" font-size="8.5" fill="#333" textLength="64.80" lengthAdjust="spacingAndGlyphs">Comp-APC-A :: APC-A</text>
<line x1="332.50" y1="230.80" x2="332.50" y2="303.90" stroke="#111" stroke-width="1.1" />
<line x1="332.00" y1="303.40" x2="425.80" y2="303.40" stroke="#111" stroke-width="1.1" />
<line x1="329.50" y1="300.20" x2="332.50" y2="300.20" stroke="#111" stroke-width="1" />
<text x="325.60" y="302.50" font-size="6.6" fill="#222" text-anchor="end">0</text>
<line x1="329.50" y1="283.55" x2="332.50" y2="283.55" stroke="#111" stroke-width="1" />
<text x="325.60" y="285.85" font-size="6.6" fill="#222" text-anchor="end">5000</text>
<line x1="329.50" y1="266.90" x2="332.50" y2="266.90" stroke="#111" stroke-width="1" />
<text x="325.60" y="269.20" font-size="6.6" fill="#222" text-anchor="end">10000</text>
<line x1="329.50" y1="250.25" x2="332.50" y2="250.25" stroke="#111" stroke-width="1" />
<text x="325.60" y="252.55" font-size="6.6" fill="#222" text-anchor="end">15000</text>
<line x1="329.50" y1="233.60" x2="332.50" y2="233.60" stroke="#111" stroke-width="1" />
<text x="325.60" y="235.90" font-size="6.6" fill="#222" text-anchor="end">20000</text>
<line x1="345.00" y1="303.40" x2="345.00" y2="306.60" stroke="#111" stroke-width="1" />
<line x1="368.20" y1="303.40" x2="368.20" y2="306.60" stroke="#111" stroke-width="1" />
<line x1="391.50" y1="303.40" x2="391.50" y2="306.60" stroke="#111" stroke-width="1" />
<line x1="414.10" y1="303.40" x2="414.10" y2="306.60" stroke="#111" stroke-width="1" />
<text transform="translate(298.3,269.1) rotate(-90)" font-size="7.4" fill="#222" text-anchor="middle">MFI</text>
<text transform="translate(347.50,312.2) rotate(-45)" font-size="6.9" fill="#222" text-anchor="end">Control</text>
<text transform="translate(371.80,312.2) rotate(-45)" font-size="6.9" fill="#222" text-anchor="end">ANKL1</text>
<text transform="translate(394.50,312.2) rotate(-45)" font-size="6.9" fill="#222" text-anchor="end">ANKL3</text>
<text transform="translate(417.30,312.2) rotate(-45)" font-size="6.9" fill="#222" text-anchor="end">ANKL5</text>
<text transform="translate(354.3,319.0) rotate(-45)" font-size="6.9" fill="#222" text-anchor="end">PBMC</text>
<rect x="361.20" y="275.30" width="15.40" height="5.60" fill="#f2b9b1" />
<line x1="361.20" y1="276.00" x2="376.60" y2="276.00" stroke="#c8102e" stroke-width="0.9" />
<rect x="383.80" y="239.20" width="15.70" height="17.70" fill="#f2b9b1" />
<line x1="383.80" y1="239.60" x2="399.50" y2="239.60" stroke="#c8102e" stroke-width="0.9" />
<line x1="391.10" y1="256.90" x2="391.10" y2="273.20" stroke="#c8102e" stroke-width="0.9" />
<rect x="405.70" y="272.20" width="15.80" height="2.40" fill="#f2b9b1" />
<line x1="405.70" y1="272.60" x2="421.50" y2="272.60" stroke="#c8102e" stroke-width="0.9" />
<line x1="338.60" y1="300.00" x2="353.40" y2="300.00" stroke="#111" stroke-width="1.0" />
<circle cx="364.3" cy="275.7" r="1.9" fill="#111"/>
<circle cx="373.1" cy="275.3" r="1.9" fill="#111"/>
<circle cx="368.5" cy="284.3" r="1.9" fill="#111"/>
<circle cx="386.5" cy="239.3" r="1.9" fill="#111"/>
<circle cx="396.2" cy="238.9" r="1.9" fill="#111"/>
<circle cx="391.1" cy="273.5" r="1.9" fill="#111"/>
<circle cx="409.9" cy="272.5" r="1.9" fill="#111"/>
<circle cx="418.4" cy="272.5" r="1.9" fill="#111"/>
<circle cx="414.1" cy="276.9" r="1.9" fill="#111"/>
<circle cx="341.5" cy="299.8" r="1.9" fill="#111"/>
<circle cx="346.2" cy="299.8" r="1.9" fill="#111"/>
<circle cx="350.8" cy="299.8" r="1.9" fill="#111"/>
<text x="368.50" y="272.60" font-size="8.0" fill="#222" text-anchor="middle">***</text>
<text x="391.10" y="235.60" font-size="8.0" fill="#222" text-anchor="middle">*</text>
<text x="414.10" y="268.80" font-size="8.0" fill="#222" text-anchor="middle">***</text>
<rect x="433.50" y="233.10" width="12.50" height="4.40" fill="#1f4e8c" />
<rect x="433.50" y="242.30" width="12.50" height="4.30" fill="#c8102e" />
<text x="449.80" y="238.00" font-size="6.7" fill="#222" textLength="41.70" lengthAdjust="spacingAndGlyphs">Healthy donor</text>
<text x="449.80" y="246.60" font-size="6.7" fill="#222">ANKL</text>
<text x="7.60" y="336.00" font-size="11.3" fill="#111" font-weight="bold">E</text>
<text x="29.90" y="348.20" font-size="6.7" fill="#333" textLength="18.60" lengthAdjust="spacingAndGlyphs">Group</text>
<rect x="51.20" y="352.80" width="58.43" height="4.10" fill="#e9e23a" />
<text x="80.42" y="348.20" font-size="6.7" fill="#333" text-anchor="middle">1</text>
<rect x="111.23" y="352.80" width="10.28" height="4.10" fill="#efa43e" />
<text x="116.37" y="348.20" font-size="6.7" fill="#333" text-anchor="middle">2</text>
<rect x="123.11" y="352.80" width="16.22" height="4.10" fill="#e77a55" />
<text x="131.22" y="348.20" font-size="6.7" fill="#333" text-anchor="middle">3</text>
<rect x="140.93" y="352.80" width="39.98" height="4.10" fill="#c64b7a" />
<text x="160.92" y="348.20" font-size="6.7" fill="#333" text-anchor="middle">4</text>
<rect x="182.51" y="352.80" width="57.80" height="4.10" fill="#852a85" />
<text x="211.41" y="348.20" font-size="6.7" fill="#333" text-anchor="middle">5</text>
<rect x="241.91" y="352.80" width="34.04" height="4.10" fill="#4c2b88" />
<text x="258.93" y="348.20" font-size="6.7" fill="#333" text-anchor="middle">6</text>
<rect x="277.55" y="352.80" width="93.44" height="4.10" fill="#2c2a86" />
<text x="324.27" y="348.20" font-size="6.7" fill="#333" text-anchor="middle">7</text>
<line x1="50.50" y1="360.30" x2="50.50" y2="411.10" stroke="#111" stroke-width="1.1" />
<line x1="50.00" y1="410.60" x2="372.00" y2="410.60" stroke="#111" stroke-width="1.1" />
<line x1="47.50" y1="364.80" x2="50.50" y2="364.80" stroke="#111" stroke-width="1" />
<text x="44.50" y="367.30" font-size="7.2" fill="#222" text-anchor="end">5</text>
<line x1="47.50" y1="377.20" x2="50.50" y2="377.20" stroke="#111" stroke-width="1" />
<text x="44.50" y="379.70" font-size="7.2" fill="#222" text-anchor="end">0</text>
<line x1="47.50" y1="389.50" x2="50.50" y2="389.50" stroke="#111" stroke-width="1" />
<text x="44.50" y="392.00" font-size="7.2" fill="#222" text-anchor="end">−5</text>
<line x1="47.50" y1="401.80" x2="50.50" y2="401.80" stroke="#111" stroke-width="1" />
<text x="44.50" y="404.30" font-size="7.2" fill="#222" text-anchor="end">−10</text>
<text transform="translate(28.00,385.80) rotate(-90)" font-size="8.5" fill="#222" text-anchor="middle" textLength="51.0" lengthAdjust="spacingAndGlyphs">log2FoldChange</text>
<line x1="54.00" y1="410.60" x2="54.00" y2="413.50" stroke="#111" stroke-width="0.9" />
<rect x="52.00" y="371.00" width="4.00" height="6.20" fill="#efe03c" />
<text transform="translate(56.20,416.80) rotate(-90)" font-size="6.4" fill="#222" text-anchor="end">SLC39A14</text>
<line x1="59.94" y1="410.60" x2="59.94" y2="413.50" stroke="#111" stroke-width="0.9" />
<rect x="57.94" y="373.10" width="4.00" height="4.10" fill="#2c6c8c" />
<text transform="translate(62.14,416.80) rotate(-90)" font-size="6.4" fill="#222" text-anchor="end">TFRC</text>
<line x1="65.88" y1="410.60" x2="65.88" y2="413.50" stroke="#111" stroke-width="0.9" />
<rect x="63.88" y="374.00" width="4.00" height="3.20" fill="#30407c" />
<text transform="translate(68.08,416.80) rotate(-90)" font-size="6.4" fill="#222" text-anchor="end">SLC25A37</text>
<line x1="71.82" y1="410.60" x2="71.82" y2="413.50" stroke="#111" stroke-width="0.9" />
<text transform="translate(74.02,416.80) rotate(-90)" font-size="6.4" fill="#222" text-anchor="end">SLC25A28</text>
<line x1="77.76" y1="410.60" x2="77.76" y2="413.50" stroke="#111" stroke-width="0.9" />
<rect x="75.76" y="376.90" width="4.00" height="0.70" fill="#555" />
<text transform="translate(79.96,416.80) rotate(-90)" font-size="6.4" fill="#222" text-anchor="end">SLC11A2</text>
<line x1="83.70" y1="410.60" x2="83.70" y2="413.50" stroke="#111" stroke-width="0.9" />
<rect x="81.70" y="377.20" width="4.00" height="3.40" fill="#33306e" />
<text transform="translate(85.90,416.80) rotate(-90)" font-size="6.4" fill="#222" text-anchor="end">PRNP</text>
<line x1="89.64" y1="410.60" x2="89.64" y2="413.50" stroke="#111" stroke-width="0.9" />
<rect x="87.64" y="377.20" width="4.00" height="15.30" fill="#3b0f5f" />
<text transform="translate(91.84,416.80) rotate(-90)" font-size="6.4" fill="#222" text-anchor="end">TF</text>
<line x1="95.58" y1="410.60" x2="95.58" y2="413.50" stroke="#111" stroke-width="0.9" />
<rect x="93.58" y="377.20" width="4.00" height="16.55" fill="#6cb047" />
<text transform="translate(97.78,416.80) rotate(-90)" font-size="6.4" fill="#222" text-anchor="end">SLC39A8</text>
<line x1="101.52" y1="410.60" x2="101.52" y2="413.50" stroke="#111" stroke-width="0.9" />
<rect x="99.52" y="377.20" width="4.00" height="20.30" fill="#3b0f5f" />
<text transform="translate(103.72,416.80) rotate(-90)" font-size="6.4" fill="#222" text-anchor="end">STEAP3</text>
<line x1="107.46" y1="410.60" x2="107.46" y2="413.50" stroke="#111" stroke-width="0.9" />
<rect x="105.46" y="377.20" width="4.00" height="30.90" fill="#3a559a" />
<text transform="translate(109.66,416.80) rotate(-90)" font-size="6.4" fill="#222" text-anchor="end">CYBRD1</text>
<line x1="113.40" y1="410.60" x2="113.40" y2="413.50" stroke="#111" stroke-width="0.9" />
<rect x="111.40" y="376.90" width="4.00" height="0.70" fill="#888" />
<text transform="translate(115.60,416.80) rotate(-90)" font-size="6.4" fill="#222" text-anchor="end" font-style="italic">FTL</text>
<line x1="119.34" y1="410.60" x2="119.34" y2="413.50" stroke="#111" stroke-width="0.9" />
<rect x="117.34" y="377.20" width="4.00" height="1.80" fill="#3a1a5a" />
<text transform="translate(121.54,416.80) rotate(-90)" font-size="6.4" fill="#222" text-anchor="end" font-style="italic">FTH1</text>
<line x1="125.28" y1="410.60" x2="125.28" y2="413.50" stroke="#111" stroke-width="0.9" />
<rect x="123.28" y="362.25" width="4.00" height="14.95" fill="#3b0f5f" />
<text transform="translate(127.48,416.80) rotate(-90)" font-size="6.4" fill="#222" text-anchor="end">HEPH</text>
<line x1="131.22" y1="410.60" x2="131.22" y2="413.50" stroke="#111" stroke-width="0.9" />
<rect x="129.22" y="377.20" width="4.00" height="15.30" fill="#3b0f5f" />
<text transform="translate(133.42,416.80) rotate(-90)" font-size="6.4" fill="#222" text-anchor="end">CP</text>
<line x1="137.16" y1="410.60" x2="137.16" y2="413.50" stroke="#111" stroke-width="0.9" />
<rect x="135.16" y="377.20" width="4.00" height="15.30" fill="#3b0f5f" />
<text transform="translate(139.36,416.80) rotate(-90)" font-size="6.4" fill="#222" text-anchor="end">SLC40A1</text>
<line x1="143.10" y1="410.60" x2="143.10" y2="413.50" stroke="#111" stroke-width="0.9" />
<rect x="141.10" y="376.10" width="4.00" height="1.10" fill="#3a2050" />
<text transform="translate(145.30,416.80) rotate(-90)" font-size="6.4" fill="#222" text-anchor="end">PCBP2</text>
<line x1="149.04" y1="410.60" x2="149.04" y2="413.50" stroke="#111" stroke-width="0.9" />
<rect x="147.04" y="376.30" width="4.00" height="0.90" fill="#7a6a8a" />
<text transform="translate(151.24,416.80) rotate(-90)" font-size="6.4" fill="#222" text-anchor="end">PCBP1</text>
<line x1="154.98" y1="410.60" x2="154.98" y2="413.50" stroke="#111" stroke-width="0.9" />
<rect x="152.98" y="376.50" width="4.00" height="0.70" fill="#9a90a8" />
<text transform="translate(157.18,416.80) rotate(-90)" font-size="6.4" fill="#222" text-anchor="end">NCOA4</text>
<line x1="160.92" y1="410.60" x2="160.92" y2="413.50" stroke="#111" stroke-width="0.9" />
<rect x="158.92" y="377.20" width="4.00" height="0.70" fill="#6a5a80" />
<text transform="translate(163.12,416.80) rotate(-90)" font-size="6.4" fill="#222" text-anchor="end">ACO1</text>
<line x1="166.86" y1="410.60" x2="166.86" y2="413.50" stroke="#111" stroke-width="0.9" />
<rect x="164.86" y="377.20" width="4.00" height="1.10" fill="#5a4a70" />
<text transform="translate(169.06,416.80) rotate(-90)" font-size="6.4" fill="#222" text-anchor="end">IREB2</text>
<line x1="172.80" y1="410.60" x2="172.80" y2="413.50" stroke="#111" stroke-width="0.9" />
<rect x="170.80" y="377.20" width="4.00" height="1.30" fill="#4a3a6a" />
<text transform="translate(175.00,416.80) rotate(-90)" font-size="6.4" fill="#222" text-anchor="end">PCBP4</text>
<line x1="178.74" y1="410.60" x2="178.74" y2="413.50" stroke="#111" stroke-width="0.9" />
<rect x="176.74" y="377.20" width="4.00" height="2.80" fill="#3a4690" />
<text transform="translate(180.94,416.80) rotate(-90)" font-size="6.4" fill="#222" text-anchor="end">FBXL5</text>
<line x1="184.68" y1="410.60" x2="184.68" y2="413.50" stroke="#111" stroke-width="0.9" />
<rect x="182.68" y="369.75" width="4.00" height="7.45" fill="#7ab04e" />
<text transform="translate(186.88,416.80) rotate(-90)" font-size="6.4" fill="#222" text-anchor="end">HMBS</text>
<line x1="190.62" y1="410.60" x2="190.62" y2="413.50" stroke="#111" stroke-width="0.9" />
<rect x="188.62" y="373.50" width="4.00" height="3.70" fill="#2e5c98" />
<text transform="translate(192.82,416.80) rotate(-90)" font-size="6.4" fill="#222" text-anchor="end">ALAS1</text>
<line x1="196.56" y1="410.60" x2="196.56" y2="413.50" stroke="#111" stroke-width="0.9" />
<rect x="194.56" y="374.40" width="4.00" height="2.80" fill="#1e1a48" />
<text transform="translate(198.76,416.80) rotate(-90)" font-size="6.4" fill="#222" text-anchor="end">UROS</text>
<line x1="202.50" y1="410.60" x2="202.50" y2="413.50" stroke="#111" stroke-width="0.9" />
<rect x="200.50" y="376.90" width="4.00" height="0.60" fill="#bbb" />
<text transform="translate(204.70,416.80) rotate(-90)" font-size="6.4" fill="#222" text-anchor="end">UROD</text>
<line x1="208.44" y1="410.60" x2="208.44" y2="413.50" stroke="#111" stroke-width="0.9" />
<rect x="206.44" y="376.90" width="4.00" height="0.60" fill="#ccc" />
<text transform="translate(210.64,416.80) rotate(-90)" font-size="6.4" fill="#222" text-anchor="end">SLC25A38</text>
<line x1="214.38" y1="410.60" x2="214.38" y2="413.50" stroke="#111" stroke-width="0.9" />
<rect x="212.38" y="377.20" width="4.00" height="1.30" fill="#2a2050" />
<text transform="translate(216.58,416.80) rotate(-90)" font-size="6.4" fill="#222" text-anchor="end">PPOX</text>
<line x1="220.32" y1="410.60" x2="220.32" y2="413.50" stroke="#111" stroke-width="0.9" />
<rect x="218.32" y="377.20" width="4.00" height="1.50" fill="#3a1a5a" />
<text transform="translate(222.52,416.80) rotate(-90)" font-size="6.4" fill="#222" text-anchor="end">CPOX</text>
<line x1="226.26" y1="410.60" x2="226.26" y2="413.50" stroke="#111" stroke-width="0.9" />
<rect x="224.26" y="377.20" width="4.00" height="2.00" fill="#2a2a5a" />
<text transform="translate(228.46,416.80) rotate(-90)" font-size="6.4" fill="#222" text-anchor="end">ALAD</text>
<line x1="232.20" y1="410.60" x2="232.20" y2="413.50" stroke="#111" stroke-width="0.9" />
<rect x="230.20" y="377.20" width="4.00" height="4.30" fill="#3a5a90" />
<text transform="translate(234.40,416.80) rotate(-90)" font-size="6.4" fill="#222" text-anchor="end">FECH</text>
<line x1="238.14" y1="410.60" x2="238.14" y2="413.50" stroke="#111" stroke-width="0.9" />
<rect x="236.14" y="377.20" width="4.00" height="30.05" fill="#3a5a9a" />
<text transform="translate(240.34,416.80) rotate(-90)" font-size="6.4" fill="#222" text-anchor="end">TSPO</text>
<line x1="244.08" y1="410.60" x2="244.08" y2="413.50" stroke="#111" stroke-width="0.9" />
<rect x="242.08" y="374.40" width="4.00" height="2.80" fill="#2a0a4a" />
<text transform="translate(246.28,416.80) rotate(-90)" font-size="6.4" fill="#222" text-anchor="end">NUBP1</text>
<line x1="250.02" y1="410.60" x2="250.02" y2="413.50" stroke="#111" stroke-width="0.9" />
<rect x="248.02" y="375.50" width="4.00" height="1.70" fill="#2a1a4a" />
<text transform="translate(252.22,416.80) rotate(-90)" font-size="6.4" fill="#222" text-anchor="end">MMS19</text>
<line x1="255.96" y1="410.60" x2="255.96" y2="413.50" stroke="#111" stroke-width="0.9" />
<rect x="253.96" y="375.50" width="4.00" height="1.70" fill="#2a1a4a" />
<text transform="translate(258.16,416.80) rotate(-90)" font-size="6.4" fill="#222" text-anchor="end">CIAPIN1</text>
<line x1="261.90" y1="410.60" x2="261.90" y2="413.50" stroke="#111" stroke-width="0.9" />
<rect x="259.90" y="376.00" width="4.00" height="1.20" fill="#2a1a4a" />
<text transform="translate(264.10,416.80) rotate(-90)" font-size="6.4" fill="#222" text-anchor="end">NDOR1</text>
<line x1="267.84" y1="410.60" x2="267.84" y2="413.50" stroke="#111" stroke-width="0.9" />
<rect x="265.84" y="376.40" width="4.00" height="0.80" fill="#2a1a4a" />
<text transform="translate(270.04,416.80) rotate(-90)" font-size="6.4" fill="#222" text-anchor="end">NUBP2</text>
<line x1="273.78" y1="410.60" x2="273.78" y2="413.50" stroke="#111" stroke-width="0.9" />
<text transform="translate(275.98,416.80) rotate(-90)" font-size="6.4" fill="#222" text-anchor="end">CIAO1</text>
<line x1="279.72" y1="410.60" x2="279.72" y2="413.50" stroke="#111" stroke-width="0.9" />
<rect x="277.72" y="370.60" width="4.00" height="6.60" fill="#2a6a88" />
<text transform="translate(281.92,416.80) rotate(-90)" font-size="6.4" fill="#222" text-anchor="end">FDXR</text>
<line x1="285.66" y1="410.60" x2="285.66" y2="413.50" stroke="#111" stroke-width="0.9" />
<rect x="283.66" y="370.60" width="4.00" height="6.60" fill="#3a4a90" />
<text transform="translate(287.86,416.80) rotate(-90)" font-size="6.4" fill="#222" text-anchor="end">BOLA3</text>
<line x1="291.60" y1="410.60" x2="291.60" y2="413.50" stroke="#111" stroke-width="0.9" />
<rect x="289.60" y="371.25" width="4.00" height="5.95" fill="#38a87a" />
<text transform="translate(293.80,416.80) rotate(-90)" font-size="6.4" fill="#222" text-anchor="end">NFS1</text>
<line x1="297.54" y1="410.60" x2="297.54" y2="413.50" stroke="#111" stroke-width="0.9" />
<rect x="295.54" y="373.10" width="4.00" height="4.10" fill="#7ab860" />
<text transform="translate(299.74,416.80) rotate(-90)" font-size="6.4" fill="#222" text-anchor="end">HSPA9</text>
<line x1="303.48" y1="410.60" x2="303.48" y2="413.50" stroke="#111" stroke-width="0.9" />
<rect x="301.48" y="374.40" width="4.00" height="2.80" fill="#2a1050" />
<text transform="translate(305.68,416.80) rotate(-90)" font-size="6.4" fill="#222" text-anchor="end">LYRM4</text>
<line x1="309.42" y1="410.60" x2="309.42" y2="413.50" stroke="#111" stroke-width="0.9" />
<rect x="307.42" y="374.70" width="4.00" height="2.50" fill="#2a1050" />
<text transform="translate(311.62,416.80) rotate(-90)" font-size="6.4" fill="#222" text-anchor="end">GLRX5</text>
<line x1="315.36" y1="410.60" x2="315.36" y2="413.50" stroke="#111" stroke-width="0.9" />
<rect x="313.36" y="375.20" width="4.00" height="2.00" fill="#2a1050" />
<text transform="translate(317.56,416.80) rotate(-90)" font-size="6.4" fill="#222" text-anchor="end">FDX1</text>
<line x1="321.30" y1="410.60" x2="321.30" y2="413.50" stroke="#111" stroke-width="0.9" />
<rect x="319.30" y="375.50" width="4.00" height="1.70" fill="#2a1050" />
<text transform="translate(323.50,416.80) rotate(-90)" font-size="6.4" fill="#222" text-anchor="end">NFU1</text>
<line x1="327.24" y1="410.60" x2="327.24" y2="413.50" stroke="#111" stroke-width="0.9" />
<rect x="325.24" y="375.80" width="4.00" height="1.40" fill="#2a1050" />
<text transform="translate(329.44,416.80) rotate(-90)" font-size="6.4" fill="#222" text-anchor="end">IBA57</text>
<line x1="333.18" y1="410.60" x2="333.18" y2="413.50" stroke="#111" stroke-width="0.9" />
<rect x="331.18" y="376.10" width="4.00" height="1.10" fill="#2a1050" />
<text transform="translate(335.38,416.80) rotate(-90)" font-size="6.4" fill="#222" text-anchor="end">ISCA2</text>
<line x1="339.12" y1="410.60" x2="339.12" y2="413.50" stroke="#111" stroke-width="0.9" />
<rect x="337.12" y="376.10" width="4.00" height="1.10" fill="#2a1050" />
<text transform="translate(341.32,416.80) rotate(-90)" font-size="6.4" fill="#222" text-anchor="end">NUBPL</text>
<line x1="345.06" y1="410.60" x2="345.06" y2="413.50" stroke="#111" stroke-width="0.9" />
<rect x="343.06" y="376.90" width="4.00" height="0.60" fill="#bbb" />
<text transform="translate(347.26,416.80) rotate(-90)" font-size="6.4" fill="#222" text-anchor="end">HSCB</text>
<line x1="351.00" y1="410.60" x2="351.00" y2="413.50" stroke="#111" stroke-width="0.9" />
<rect x="349.00" y="377.20" width="4.00" height="1.00" fill="#2a1050" />
<text transform="translate(353.20,416.80) rotate(-90)" font-size="6.4" fill="#222" text-anchor="end" font-style="italic">ISCU</text>
<line x1="356.94" y1="410.60" x2="356.94" y2="413.50" stroke="#111" stroke-width="0.9" />
<rect x="354.94" y="377.20" width="4.00" height="1.00" fill="#2a1050" />
<text transform="translate(359.14,416.80) rotate(-90)" font-size="6.4" fill="#222" text-anchor="end">ISCA1</text>
<line x1="362.88" y1="410.60" x2="362.88" y2="413.50" stroke="#111" stroke-width="0.9" />
<rect x="360.88" y="375.80" width="4.00" height="1.40" fill="#2a1050" />
<text transform="translate(365.08,416.80) rotate(-90)" font-size="6.4" fill="#222" text-anchor="end">ABCB7</text>
<line x1="368.82" y1="410.60" x2="368.82" y2="413.50" stroke="#111" stroke-width="0.9" />
<rect x="366.82" y="376.10" width="4.00" height="1.10" fill="#2a1050" />
<text transform="translate(371.02,416.80) rotate(-90)" font-size="6.4" fill="#222" text-anchor="end">GFER</text>
<line x1="371.50" y1="410.60" x2="371.50" y2="413.50" stroke="#111" stroke-width="0.9" />
<text x="183.40" y="458.80" font-size="7.8" fill="#333" textLength="56.30" lengthAdjust="spacingAndGlyphs">Iron-related genes</text>
<text x="249.20" y="456.00" font-size="6.0" fill="#333" textLength="38.50" lengthAdjust="spacingAndGlyphs">–log10(P adj)</text>
<rect x="291.20" y="449.20" width="49.00" height="7.00" fill="url(#viridis)" />
<text x="302.30" y="465.00" font-size="6.6" fill="#333" text-anchor="middle">20</text>
<text x="313.30" y="465.00" font-size="6.6" fill="#333" text-anchor="middle">40</text>
<text x="323.80" y="465.00" font-size="6.6" fill="#333" text-anchor="middle">60</text>
<text x="334.40" y="465.00" font-size="6.6" fill="#333" text-anchor="middle">80</text>
<text x="386.50" y="357.30" font-size="8.1" fill="#c8283c" textLength="21.20" lengthAdjust="spacingAndGlyphs">ANKL</text>
<path d="M397.25,360.3 L400,366 L398.2,366 L398.2,376.3 L396.3,376.3 L396.3,366 L394.5,366 Z" fill="#c8102e"/>
<path d="M397.25,393.8 L400,388 L398.2,388 L398.2,376.3 L396.3,376.3 L396.3,388 L394.5,388 Z" fill="#1f4e79"/>
<text x="376.90" y="404.80" font-size="8.4" fill="#3d6496" textLength="41.20" lengthAdjust="spacingAndGlyphs">Normal NK</text>
<text x="7.50" y="486.30" font-size="11.3" fill="#111" font-weight="bold">F</text>
<text x="29.90" y="498.00" font-size="6.7" fill="#333" textLength="18.60" lengthAdjust="spacingAndGlyphs">Group</text>
<rect x="51.20" y="502.80" width="52.55" height="4.00" fill="#e9e23a" />
<text x="77.47" y="498.00" font-size="6.7" fill="#333" text-anchor="middle">1</text>
<rect x="105.35" y="502.80" width="10.27" height="4.00" fill="#efa43e" />
<text x="110.48" y="498.00" font-size="6.7" fill="#333" text-anchor="middle">2</text>
<rect x="117.22" y="502.80" width="22.14" height="4.00" fill="#e77a55" />
<text x="128.29" y="498.00" font-size="6.7" fill="#333" text-anchor="middle">3</text>
<rect x="140.96" y="502.80" width="45.88" height="4.00" fill="#c64b7a" />
<text x="163.90" y="498.00" font-size="6.7" fill="#333" text-anchor="middle">4</text>
<rect x="188.44" y="502.80" width="63.68" height="4.00" fill="#852a85" />
<text x="220.28" y="498.00" font-size="6.7" fill="#333" text-anchor="middle">5</text>
<rect x="253.72" y="502.80" width="34.01" height="4.00" fill="#4c2b88" />
<text x="270.73" y="498.00" font-size="6.7" fill="#333" text-anchor="middle">6</text>
<rect x="289.33" y="502.80" width="93.36" height="4.00" fill="#2c2a86" />
<text x="336.01" y="498.00" font-size="6.7" fill="#333" text-anchor="middle">7</text>
<line x1="50.50" y1="510.70" x2="50.50" y2="561.20" stroke="#111" stroke-width="1.1" />
<line x1="50.00" y1="560.70" x2="384.00" y2="560.70" stroke="#111" stroke-width="1.1" />
<line x1="47.50" y1="514.60" x2="50.50" y2="514.60" stroke="#111" stroke-width="1" />
<text x="44.50" y="517.10" font-size="7.2" fill="#222" text-anchor="end">2</text>
<line x1="47.50" y1="527.40" x2="50.50" y2="527.40" stroke="#111" stroke-width="1" />
<text x="44.50" y="529.90" font-size="7.2" fill="#222" text-anchor="end">1</text>
<line x1="47.50" y1="540.25" x2="50.50" y2="540.25" stroke="#111" stroke-width="1" />
<text x="44.50" y="542.75" font-size="7.2" fill="#222" text-anchor="end">0</text>
<line x1="47.50" y1="553.00" x2="50.50" y2="553.00" stroke="#111" stroke-width="1" />
<text x="44.50" y="555.50" font-size="7.2" fill="#222" text-anchor="end">−1</text>
<text transform="translate(31.85,535.80) rotate(-90)" font-size="8.5" fill="#222" text-anchor="middle" textLength="51.0" lengthAdjust="spacingAndGlyphs">log2FoldChange</text>
<line x1="54.10" y1="560.70" x2="54.10" y2="563.60" stroke="#111" stroke-width="0.9" />
<rect x="52.10" y="532.25" width="4.00" height="8.00" fill="#3a2a78" />
<text transform="translate(56.30,566.60) rotate(-90)" font-size="6.5" fill="#222" text-anchor="end" font-style="italic">Slc39a14</text>
<line x1="60.04" y1="560.70" x2="60.04" y2="563.60" stroke="#111" stroke-width="0.9" />
<rect x="58.04" y="536.25" width="4.00" height="4.00" fill="#3a2a78" />
<text transform="translate(62.24,566.60) rotate(-90)" font-size="6.5" fill="#222" text-anchor="end" font-style="italic">Trf</text>
<line x1="65.97" y1="560.70" x2="65.97" y2="563.60" stroke="#111" stroke-width="0.9" />
<rect x="63.97" y="537.00" width="4.00" height="3.25" fill="#3a2a78" />
<text transform="translate(68.17,566.60) rotate(-90)" font-size="6.5" fill="#222" text-anchor="end" font-style="italic">Slc25a37</text>
<line x1="71.91" y1="560.70" x2="71.91" y2="563.60" stroke="#111" stroke-width="0.9" />
<rect x="69.91" y="539.60" width="4.00" height="1.10" fill="#5a4a80" />
<text transform="translate(74.11,566.60) rotate(-90)" font-size="6.5" fill="#222" text-anchor="end" font-style="italic">Slc11a2</text>
<line x1="77.84" y1="560.70" x2="77.84" y2="563.60" stroke="#111" stroke-width="0.9" />
<rect x="75.84" y="539.80" width="4.00" height="1.10" fill="#6a5a90" />
<text transform="translate(80.04,566.60) rotate(-90)" font-size="6.5" fill="#222" text-anchor="end" font-style="italic">Steap3</text>
<line x1="83.78" y1="560.70" x2="83.78" y2="563.60" stroke="#111" stroke-width="0.9" />
<rect x="81.78" y="540.25" width="4.00" height="1.35" fill="#3a2a68" />
<text transform="translate(85.98,566.60) rotate(-90)" font-size="6.5" fill="#222" text-anchor="end" font-style="italic">Prnp</text>
<line x1="89.71" y1="560.70" x2="89.71" y2="563.60" stroke="#111" stroke-width="0.9" />
<rect x="87.71" y="540.25" width="4.00" height="2.50" fill="#3a2a78" />
<text transform="translate(91.91,566.60) rotate(-90)" font-size="6.5" fill="#222" text-anchor="end" font-style="italic">Slc25a28</text>
<line x1="95.64" y1="560.70" x2="95.64" y2="563.60" stroke="#111" stroke-width="0.9" />
<rect x="93.64" y="540.25" width="4.00" height="5.00" fill="#3a2a78" />
<text transform="translate(97.84,566.60) rotate(-90)" font-size="6.5" fill="#222" text-anchor="end" font-style="italic">Slc39a8</text>
<line x1="101.58" y1="560.70" x2="101.58" y2="563.60" stroke="#111" stroke-width="0.9" />
<rect x="99.58" y="540.25" width="4.00" height="18.25" fill="#3a3288" />
<text transform="translate(103.78,566.60) rotate(-90)" font-size="6.5" fill="#222" text-anchor="end" font-style="italic">Cybrd1</text>
<line x1="107.52" y1="560.70" x2="107.52" y2="563.60" stroke="#111" stroke-width="0.9" />
<rect x="105.52" y="540.25" width="4.00" height="1.65" fill="#2a1a50" />
<text transform="translate(109.72,566.60) rotate(-90)" font-size="6.5" fill="#222" text-anchor="end" font-style="italic">Ftl1</text>
<line x1="113.45" y1="560.70" x2="113.45" y2="563.60" stroke="#111" stroke-width="0.9" />
<rect x="111.45" y="540.25" width="4.00" height="2.00" fill="#2a1a50" />
<text transform="translate(115.65,566.60) rotate(-90)" font-size="6.5" fill="#222" text-anchor="end" font-style="italic">Fth1</text>
<line x1="119.38" y1="560.70" x2="119.38" y2="563.60" stroke="#111" stroke-width="0.9" />
<rect x="117.38" y="526.50" width="4.00" height="13.75" fill="#2a9a7a" />
<text transform="translate(121.58,566.60) rotate(-90)" font-size="6.5" fill="#222" text-anchor="end" font-style="italic">Heph</text>
<line x1="125.32" y1="560.70" x2="125.32" y2="563.60" stroke="#111" stroke-width="0.9" />
<rect x="123.32" y="529.75" width="4.00" height="10.50" fill="#2a7a8a" />
<text transform="translate(127.52,566.60) rotate(-90)" font-size="6.5" fill="#222" text-anchor="end" font-style="italic">Slc40a1</text>
<line x1="131.25" y1="560.70" x2="131.25" y2="563.60" stroke="#111" stroke-width="0.9" />
<rect x="129.25" y="532.25" width="4.00" height="8.00" fill="#3a5a90" />
<text transform="translate(133.45,566.60) rotate(-90)" font-size="6.5" fill="#222" text-anchor="end" font-style="italic">Cp</text>
<line x1="137.19" y1="560.70" x2="137.19" y2="563.60" stroke="#111" stroke-width="0.9" />
<rect x="135.19" y="540.25" width="4.00" height="6.65" fill="#35125e" />
<text transform="translate(139.39,566.60) rotate(-90)" font-size="6.5" fill="#222" text-anchor="end" font-style="italic">Hamp</text>
<line x1="143.12" y1="560.70" x2="143.12" y2="563.60" stroke="#111" stroke-width="0.9" />
<rect x="141.12" y="536.25" width="4.00" height="4.00" fill="#35125e" />
<text transform="translate(145.32,566.60) rotate(-90)" font-size="6.5" fill="#222" text-anchor="end" font-style="italic">Ncoa4</text>
<line x1="149.06" y1="560.70" x2="149.06" y2="563.60" stroke="#111" stroke-width="0.9" />
<rect x="147.06" y="536.50" width="4.00" height="3.75" fill="#35125e" />
<text transform="translate(151.26,566.60) rotate(-90)" font-size="6.5" fill="#222" text-anchor="end" font-style="italic">Pcbp3</text>
<line x1="155.00" y1="560.70" x2="155.00" y2="563.60" stroke="#111" stroke-width="0.9" />
<rect x="153.00" y="540.25" width="4.00" height="1.65" fill="#2a1a50" />
<text transform="translate(157.19,566.60) rotate(-90)" font-size="6.5" fill="#222" text-anchor="end" font-style="italic">Pcbp1</text>
<line x1="160.93" y1="560.70" x2="160.93" y2="563.60" stroke="#111" stroke-width="0.9" />
<rect x="158.93" y="540.25" width="4.00" height="1.95" fill="#2a1a50" />
<text transform="translate(163.13,566.60) rotate(-90)" font-size="6.5" fill="#222" text-anchor="end" font-style="italic">Pcbp2</text>
<line x1="166.86" y1="560.70" x2="166.86" y2="563.60" stroke="#111" stroke-width="0.9" />
<rect x="164.86" y="540.25" width="4.00" height="4.50" fill="#3a2a78" />
<text transform="translate(169.06,566.60) rotate(-90)" font-size="6.5" fill="#222" text-anchor="end" font-style="italic">Pcbp4</text>
<line x1="172.80" y1="560.70" x2="172.80" y2="563.60" stroke="#111" stroke-width="0.9" />
<rect x="170.80" y="540.25" width="4.00" height="6.25" fill="#3a5a8a" />
<text transform="translate(175.00,566.60) rotate(-90)" font-size="6.5" fill="#222" text-anchor="end" font-style="italic">Fbxl5</text>
<line x1="178.73" y1="560.70" x2="178.73" y2="563.60" stroke="#111" stroke-width="0.9" />
<rect x="176.73" y="540.25" width="4.00" height="9.15" fill="#2a7a8a" />
<text transform="translate(180.93,566.60) rotate(-90)" font-size="6.5" fill="#222" text-anchor="end" font-style="italic">Aco1</text>
<line x1="184.67" y1="560.70" x2="184.67" y2="563.60" stroke="#111" stroke-width="0.9" />
<rect x="182.67" y="540.25" width="4.00" height="12.50" fill="#2a7080" />
<text transform="translate(186.87,566.60) rotate(-90)" font-size="6.5" fill="#222" text-anchor="end" font-style="italic">Ireb2</text>
<line x1="190.60" y1="560.70" x2="190.60" y2="563.60" stroke="#111" stroke-width="0.9" />
<rect x="188.60" y="514.40" width="4.00" height="25.85" fill="#f0e020" />
<text transform="translate(192.80,566.60) rotate(-90)" font-size="6.5" fill="#222" text-anchor="end" font-style="italic">Alas2</text>
<line x1="196.54" y1="560.70" x2="196.54" y2="563.60" stroke="#111" stroke-width="0.9" />
<rect x="194.54" y="538.00" width="4.00" height="2.25" fill="#2a1050" />
<text transform="translate(198.74,566.60) rotate(-90)" font-size="6.5" fill="#222" text-anchor="end" font-style="italic">Tspo</text>
<line x1="202.47" y1="560.70" x2="202.47" y2="563.60" stroke="#111" stroke-width="0.9" />
<rect x="200.47" y="538.00" width="4.00" height="2.25" fill="#2a1050" />
<text transform="translate(204.67,566.60) rotate(-90)" font-size="6.5" fill="#222" text-anchor="end" font-style="italic">Uros</text>
<line x1="208.41" y1="560.70" x2="208.41" y2="563.60" stroke="#111" stroke-width="0.9" />
<rect x="206.41" y="540.25" width="4.00" height="3.75" fill="#3a2a78" />
<text transform="translate(210.61,566.60) rotate(-90)" font-size="6.5" fill="#222" text-anchor="end" font-style="italic">Fech</text>
<line x1="214.34" y1="560.70" x2="214.34" y2="563.60" stroke="#111" stroke-width="0.9" />
<rect x="212.34" y="540.25" width="4.00" height="4.15" fill="#3a2a78" />
<text transform="translate(216.54,566.60) rotate(-90)" font-size="6.5" fill="#222" text-anchor="end" font-style="italic">Cpox</text>
<line x1="220.28" y1="560.70" x2="220.28" y2="563.60" stroke="#111" stroke-width="0.9" />
<rect x="218.28" y="540.25" width="4.00" height="5.00" fill="#3a2a78" />
<text transform="translate(222.48,566.60) rotate(-90)" font-size="6.5" fill="#222" text-anchor="end" font-style="italic">Ppox</text>
<line x1="226.21" y1="560.70" x2="226.21" y2="563.60" stroke="#111" stroke-width="0.9" />
<rect x="224.21" y="540.25" width="4.00" height="5.75" fill="#3a5a90" />
<text transform="translate(228.41,566.60) rotate(-90)" font-size="6.5" fill="#222" text-anchor="end" font-style="italic">Urod</text>
<line x1="232.15" y1="560.70" x2="232.15" y2="563.60" stroke="#111" stroke-width="0.9" />
<rect x="230.15" y="540.25" width="4.00" height="6.65" fill="#3a5a8a" />
<text transform="translate(234.35,566.60) rotate(-90)" font-size="6.5" fill="#222" text-anchor="end" font-style="italic">Slc25a38</text>
<line x1="238.08" y1="560.70" x2="238.08" y2="563.60" stroke="#111" stroke-width="0.9" />
<rect x="236.08" y="540.25" width="4.00" height="6.65" fill="#3a0a6a" />
<text transform="translate(240.28,566.60) rotate(-90)" font-size="6.5" fill="#222" text-anchor="end" font-style="italic">Alas1</text>
<line x1="244.02" y1="560.70" x2="244.02" y2="563.60" stroke="#111" stroke-width="0.9" />
<rect x="242.02" y="540.25" width="4.00" height="7.85" fill="#3a5a90" />
<text transform="translate(246.22,566.60) rotate(-90)" font-size="6.5" fill="#222" text-anchor="end" font-style="italic">Hmbs</text>
<line x1="249.95" y1="560.70" x2="249.95" y2="563.60" stroke="#111" stroke-width="0.9" />
<rect x="247.95" y="540.25" width="4.00" height="8.50" fill="#3a5a90" />
<text transform="translate(252.15,566.60) rotate(-90)" font-size="6.5" fill="#222" text-anchor="end" font-style="italic">Alad</text>
<line x1="255.89" y1="560.70" x2="255.89" y2="563.60" stroke="#111" stroke-width="0.9" />
<rect x="253.89" y="539.90" width="4.00" height="0.70" fill="#bbb" />
<text transform="translate(258.09,566.60) rotate(-90)" font-size="6.5" fill="#222" text-anchor="end" font-style="italic">Mms19</text>
<line x1="261.82" y1="560.70" x2="261.82" y2="563.60" stroke="#111" stroke-width="0.9" />
<rect x="259.82" y="540.00" width="4.00" height="1.50" fill="#2a1a50" />
<text transform="translate(264.02,566.60) rotate(-90)" font-size="6.5" fill="#222" text-anchor="end" font-style="italic">Ndor1</text>
<line x1="267.76" y1="560.70" x2="267.76" y2="563.60" stroke="#111" stroke-width="0.9" />
<rect x="265.76" y="540.25" width="4.00" height="2.00" fill="#2a1a50" />
<text transform="translate(269.96,566.60) rotate(-90)" font-size="6.5" fill="#222" text-anchor="end" font-style="italic">Nubp1</text>
<line x1="273.69" y1="560.70" x2="273.69" y2="563.60" stroke="#111" stroke-width="0.9" />
<rect x="271.69" y="540.25" width="4.00" height="4.50" fill="#3a3a80" />
<text transform="translate(275.89,566.60) rotate(-90)" font-size="6.5" fill="#222" text-anchor="end" font-style="italic">Ciapin1</text>
<line x1="279.63" y1="560.70" x2="279.63" y2="563.60" stroke="#111" stroke-width="0.9" />
<rect x="277.63" y="540.25" width="4.00" height="7.25" fill="#3a1a6a" />
<text transform="translate(281.83,566.60) rotate(-90)" font-size="6.5" fill="#222" text-anchor="end" font-style="italic">Nubp2</text>
<line x1="285.56" y1="560.70" x2="285.56" y2="563.60" stroke="#111" stroke-width="0.9" />
<rect x="283.56" y="540.25" width="4.00" height="7.50" fill="#3a5a90" />
<text transform="translate(287.76,566.60) rotate(-90)" font-size="6.5" fill="#222" text-anchor="end" font-style="italic">Ciao1</text>
<line x1="291.50" y1="560.70" x2="291.50" y2="563.60" stroke="#111" stroke-width="0.9" />
<rect x="289.50" y="536.00" width="4.00" height="4.25" fill="#2a1050" />
<text transform="translate(293.70,566.60) rotate(-90)" font-size="6.5" fill="#222" text-anchor="end" font-style="italic">Iscu</text>
<line x1="297.44" y1="560.70" x2="297.44" y2="563.60" stroke="#111" stroke-width="0.9" />
<rect x="295.44" y="536.25" width="4.00" height="4.00" fill="#2a1050" />
<text transform="translate(299.63,566.60) rotate(-90)" font-size="6.5" fill="#222" text-anchor="end" font-style="italic">Bola3</text>
<line x1="303.37" y1="560.70" x2="303.37" y2="563.60" stroke="#111" stroke-width="0.9" />
<rect x="301.37" y="539.30" width="4.00" height="1.30" fill="#5a4a70" />
<text transform="translate(305.57,566.60) rotate(-90)" font-size="6.5" fill="#222" text-anchor="end" font-style="italic">Iba57</text>
<line x1="309.31" y1="560.70" x2="309.31" y2="563.60" stroke="#111" stroke-width="0.9" />
<rect x="307.31" y="540.25" width="4.00" height="1.65" fill="#2a1050" />
<text transform="translate(311.50,566.60) rotate(-90)" font-size="6.5" fill="#222" text-anchor="end" font-style="italic">Isca1</text>
<line x1="315.24" y1="560.70" x2="315.24" y2="563.60" stroke="#111" stroke-width="0.9" />
<rect x="313.24" y="540.25" width="4.00" height="2.50" fill="#2a1050" />
<text transform="translate(317.44,566.60) rotate(-90)" font-size="6.5" fill="#222" text-anchor="end" font-style="italic">Fdxr</text>
<line x1="321.18" y1="560.70" x2="321.18" y2="563.60" stroke="#111" stroke-width="0.9" />
<rect x="319.18" y="540.25" width="4.00" height="3.25" fill="#2a1050" />
<text transform="translate(323.38,566.60) rotate(-90)" font-size="6.5" fill="#222" text-anchor="end" font-style="italic">Isca2</text>
<line x1="327.11" y1="560.70" x2="327.11" y2="563.60" stroke="#111" stroke-width="0.9" />
<rect x="325.11" y="540.25" width="4.00" height="3.50" fill="#3a2a78" />
<text transform="translate(329.31,566.60) rotate(-90)" font-size="6.5" fill="#222" text-anchor="end" font-style="italic">Glrx5</text>
<line x1="333.05" y1="560.70" x2="333.05" y2="563.60" stroke="#111" stroke-width="0.9" />
<rect x="331.05" y="540.25" width="4.00" height="4.15" fill="#3a1a6a" />
<text transform="translate(335.25,566.60) rotate(-90)" font-size="6.5" fill="#222" text-anchor="end" font-style="italic">Nubpl</text>
<line x1="338.98" y1="560.70" x2="338.98" y2="563.60" stroke="#111" stroke-width="0.9" />
<rect x="336.98" y="540.25" width="4.00" height="5.35" fill="#3a1a6a" />
<text transform="translate(341.18,566.60) rotate(-90)" font-size="6.5" fill="#222" text-anchor="end" font-style="italic">Hscb</text>
<line x1="344.92" y1="560.70" x2="344.92" y2="563.60" stroke="#111" stroke-width="0.9" />
<rect x="342.92" y="540.25" width="4.00" height="6.25" fill="#3a4a80" />
<text transform="translate(347.12,566.60) rotate(-90)" font-size="6.5" fill="#222" text-anchor="end" font-style="italic">Lyrm4</text>
<line x1="350.85" y1="560.70" x2="350.85" y2="563.60" stroke="#111" stroke-width="0.9" />
<rect x="348.85" y="540.25" width="4.00" height="6.25" fill="#2a6a8a" />
<text transform="translate(353.05,566.60) rotate(-90)" font-size="6.5" fill="#222" text-anchor="end" font-style="italic">Hspa9</text>
<line x1="356.79" y1="560.70" x2="356.79" y2="563.60" stroke="#111" stroke-width="0.9" />
<rect x="354.79" y="540.25" width="4.00" height="6.65" fill="#3a5a8a" />
<text transform="translate(358.99,566.60) rotate(-90)" font-size="6.5" fill="#222" text-anchor="end" font-style="italic">Nfs1</text>
<line x1="362.72" y1="560.70" x2="362.72" y2="563.60" stroke="#111" stroke-width="0.9" />
<rect x="360.72" y="540.25" width="4.00" height="7.00" fill="#3a5a90" />
<text transform="translate(364.92,566.60) rotate(-90)" font-size="6.5" fill="#222" text-anchor="end" font-style="italic">Nfu1</text>
<line x1="368.66" y1="560.70" x2="368.66" y2="563.60" stroke="#111" stroke-width="0.9" />
<rect x="366.66" y="540.25" width="4.00" height="12.25" fill="#3a5a9a" />
<text transform="translate(370.86,566.60) rotate(-90)" font-size="6.5" fill="#222" text-anchor="end" font-style="italic">Fdx1</text>
<line x1="374.59" y1="560.70" x2="374.59" y2="563.60" stroke="#111" stroke-width="0.9" />
<rect x="372.59" y="540.25" width="4.00" height="3.25" fill="#2a1050" />
<text transform="translate(376.79,566.60) rotate(-90)" font-size="6.5" fill="#222" text-anchor="end" font-style="italic">Gfer</text>
<line x1="380.52" y1="560.70" x2="380.52" y2="563.60" stroke="#111" stroke-width="0.9" />
<rect x="378.52" y="540.25" width="4.00" height="6.25" fill="#3a3a80" />
<text transform="translate(382.72,566.60) rotate(-90)" font-size="6.5" fill="#222" text-anchor="end" font-style="italic">Abcb7</text>
<line x1="383.50" y1="560.70" x2="383.50" y2="563.60" stroke="#111" stroke-width="0.9" />
<text x="183.40" y="608.80" font-size="7.8" fill="#333" textLength="56.30" lengthAdjust="spacingAndGlyphs">Iron-related genes</text>
<text x="249.20" y="606.60" font-size="6.0" fill="#333" textLength="38.50" lengthAdjust="spacingAndGlyphs">–log10(P adj)</text>
<rect x="291.20" y="600.00" width="49.00" height="7.60" fill="url(#viridis)" />
<text x="302.10" y="616.40" font-size="6.6" fill="#333" text-anchor="middle">1</text>
<text x="312.90" y="616.40" font-size="6.6" fill="#333" text-anchor="middle">2</text>
<text x="323.80" y="616.40" font-size="6.6" fill="#333" text-anchor="middle">3</text>
<text x="334.40" y="616.40" font-size="6.6" fill="#333" text-anchor="middle">4</text>
<text x="394.75" y="510.30" font-size="7.8" fill="#c8283c" textLength="15.90" lengthAdjust="spacingAndGlyphs">PDX</text>
<text x="395.00" y="519.40" font-size="7.8" fill="#c8283c" textLength="15.00" lengthAdjust="spacingAndGlyphs">liver</text>
<path d="M402.5,524.4 L405.2,530 L403.4,530 L403.4,537.6 L401.6,537.6 L401.6,530 L399.8,530 Z" fill="#c8102e"/>
<path d="M402.5,551.3 L405.2,545.5 L403.4,545.5 L403.4,537.6 L401.6,537.6 L401.6,545.5 L399.8,545.5 Z" fill="#1f4e79"/>
<text x="388.75" y="559.00" font-size="8.2" fill="#3d6496" textLength="26.90" lengthAdjust="spacingAndGlyphs">Normal</text>
<text x="395.00" y="568.75" font-size="8.2" fill="#3d6496" textLength="15.00" lengthAdjust="spacingAndGlyphs">liver</text>
<rect x="426.60" y="416.90" width="4.20" height="4.20" fill="#e9e23a" />
<text x="434.40" y="421.40" font-size="6.8" fill="#2a2a2a" textLength="39.10" lengthAdjust="spacingAndGlyphs">1 Iron uptake</text>
<rect x="426.60" y="431.40" width="4.20" height="4.20" fill="#efa43e" />
<text x="434.40" y="435.90" font-size="6.8" fill="#2a2a2a" textLength="41.40" lengthAdjust="spacingAndGlyphs">2 Iron storage</text>
<rect x="426.60" y="445.00" width="4.20" height="4.20" fill="#e77a55" />
<text x="434.40" y="449.50" font-size="6.8" fill="#2a2a2a" textLength="34.60" lengthAdjust="spacingAndGlyphs">3 Iron efflux</text>
<rect x="426.60" y="459.80" width="4.20" height="4.20" fill="#c64b7a" />
<text x="434.40" y="464.30" font-size="6.8" fill="#2a2a2a" textLength="55.20" lengthAdjust="spacingAndGlyphs">4 Iron homeostasis</text>
<rect x="426.60" y="473.90" width="4.20" height="4.20" fill="#852a85" />
<text x="434.40" y="478.40" font-size="6.8" fill="#2a2a2a" textLength="60.60" lengthAdjust="spacingAndGlyphs">5 Heme biosynthetic</text>
<rect x="426.60" y="488.30" width="4.20" height="4.20" fill="#4c2b88" />
<text x="434.40" y="492.80" font-size="6.8" fill="#2a2a2a" textLength="64.40" lengthAdjust="spacingAndGlyphs">6 Cytosolic iron-sulfur</text>
<text x="439.60" y="500.50" font-size="6.8" fill="#2a2a2a" textLength="66.00" lengthAdjust="spacingAndGlyphs">cluster protein-related</text>
<rect x="426.60" y="510.40" width="4.20" height="4.20" fill="#2c2a86" />
<text x="434.40" y="514.90" font-size="6.8" fill="#2a2a2a" textLength="78.90" lengthAdjust="spacingAndGlyphs">7 Mitochondrial iron-sulfur</text>
<text x="439.60" y="522.60" font-size="6.8" fill="#2a2a2a" textLength="66.00" lengthAdjust="spacingAndGlyphs">cluster protein-related</text>
<rect x="0.5" y="0.5" width="519" height="624" fill="none" stroke="#4a4a4a" stroke-width="1"/>
<path d="M518.5,1 L518.5,624 M1,623.5 L519,623.5" stroke="#9a9a9a" stroke-width="1" fill="none"/>
</svg></body></html>
